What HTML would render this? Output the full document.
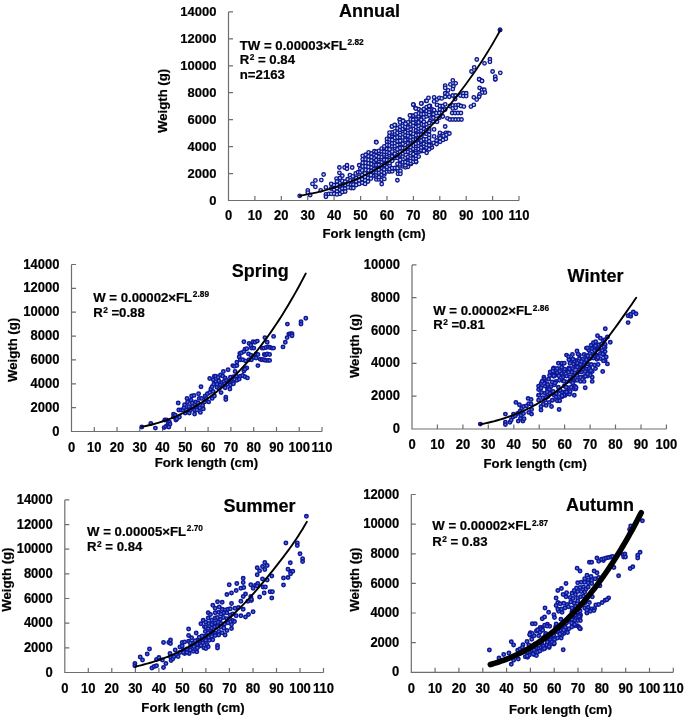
<!DOCTYPE html>
<html><head><meta charset="utf-8"><style>
html,body{margin:0;padding:0;background:#fff;width:685px;height:719px;overflow:hidden}
svg{display:block;filter:blur(0.35px)}
text{font-family:"Liberation Sans", sans-serif;font-weight:bold;fill:#000;stroke:#000;stroke-width:0.2px}
</style></head><body>
<svg width="685" height="719" viewBox="0 0 685 719">
<path d="M228.5,11.9V200.5H519.0M228.5,173.6h4.5M228.5,146.6h4.5M228.5,119.7h4.5M228.5,92.7h4.5M228.5,65.8h4.5M228.5,38.8h4.5M228.5,11.9h4.5M254.9,200.5v-4.5M281.3,200.5v-4.5M307.7,200.5v-4.5M334.1,200.5v-4.5M360.6,200.5v-4.5M387.0,200.5v-4.5M413.4,200.5v-4.5M439.8,200.5v-4.5M466.2,200.5v-4.5M492.6,200.5v-4.5M519.0,200.5v-4.5" stroke="#6e6e6e" stroke-width="1.2" fill="none"/>
<text transform="translate(216.50,204.70) scale(1,1.03)" font-size="13" text-anchor="end" >0</text>
<text transform="translate(216.50,177.76) scale(1,1.03)" font-size="13" text-anchor="end" >2000</text>
<text transform="translate(216.50,150.81) scale(1,1.03)" font-size="13" text-anchor="end" >4000</text>
<text transform="translate(216.50,123.87) scale(1,1.03)" font-size="13" text-anchor="end" >6000</text>
<text transform="translate(216.50,96.93) scale(1,1.03)" font-size="13" text-anchor="end" >8000</text>
<text transform="translate(216.50,69.99) scale(1,1.03)" font-size="13" text-anchor="end" >10000</text>
<text transform="translate(216.50,43.04) scale(1,1.03)" font-size="13" text-anchor="end" >12000</text>
<text transform="translate(216.50,16.10) scale(1,1.03)" font-size="13" text-anchor="end" >14000</text>
<text transform="translate(228.50,220.40) scale(1,1.1)" font-size="13" text-anchor="middle" >0</text>
<text transform="translate(254.91,220.40) scale(1,1.1)" font-size="13" text-anchor="middle" >10</text>
<text transform="translate(281.32,220.40) scale(1,1.1)" font-size="13" text-anchor="middle" >20</text>
<text transform="translate(307.73,220.40) scale(1,1.1)" font-size="13" text-anchor="middle" >30</text>
<text transform="translate(334.14,220.40) scale(1,1.1)" font-size="13" text-anchor="middle" >40</text>
<text transform="translate(360.55,220.40) scale(1,1.1)" font-size="13" text-anchor="middle" >50</text>
<text transform="translate(386.96,220.40) scale(1,1.1)" font-size="13" text-anchor="middle" >60</text>
<text transform="translate(413.37,220.40) scale(1,1.1)" font-size="13" text-anchor="middle" >70</text>
<text transform="translate(439.78,220.40) scale(1,1.1)" font-size="13" text-anchor="middle" >80</text>
<text transform="translate(466.19,220.40) scale(1,1.1)" font-size="13" text-anchor="middle" >90</text>
<text transform="translate(492.60,220.40) scale(1,1.1)" font-size="13" text-anchor="middle" >100</text>
<text transform="translate(519.01,220.40) scale(1,1.1)" font-size="13" text-anchor="middle" >110</text>
<text x="369.4" y="16.5" font-size="18" text-anchor="middle" >Annual</text>
<text x="374.1" y="237.8" font-size="13.2" text-anchor="middle" >Fork length (cm)</text>
<text x="0" y="0" font-size="13.2" text-anchor="middle" transform="translate(167.3,100.9) rotate(-90)">Weigth (g)</text>
<path d="M71.5,264.5V431.5H322.0M71.5,407.6h4.5M71.5,383.8h4.5M71.5,359.9h4.5M71.5,336.1h4.5M71.5,312.2h4.5M71.5,288.4h4.5M71.5,264.5h4.5M94.3,431.5v-4.5M117.0,431.5v-4.5M139.8,431.5v-4.5M162.6,431.5v-4.5M185.4,431.5v-4.5M208.1,431.5v-4.5M230.9,431.5v-4.5M253.7,431.5v-4.5M276.5,431.5v-4.5M299.2,431.5v-4.5M322.0,431.5v-4.5" stroke="#6e6e6e" stroke-width="1.2" fill="none"/>
<text transform="translate(59.50,435.60) scale(1,1.12)" font-size="13" text-anchor="end" >0</text>
<text transform="translate(59.50,411.74) scale(1,1.12)" font-size="13" text-anchor="end" >2000</text>
<text transform="translate(59.50,387.89) scale(1,1.12)" font-size="13" text-anchor="end" >4000</text>
<text transform="translate(59.50,364.03) scale(1,1.12)" font-size="13" text-anchor="end" >6000</text>
<text transform="translate(59.50,340.17) scale(1,1.12)" font-size="13" text-anchor="end" >8000</text>
<text transform="translate(59.50,316.31) scale(1,1.12)" font-size="13" text-anchor="end" >10000</text>
<text transform="translate(59.50,292.46) scale(1,1.12)" font-size="13" text-anchor="end" >12000</text>
<text transform="translate(59.50,268.60) scale(1,1.12)" font-size="13" text-anchor="end" >14000</text>
<text transform="translate(71.50,451.70) scale(1,1.08)" font-size="13" text-anchor="middle" >0</text>
<text transform="translate(94.27,451.70) scale(1,1.08)" font-size="13" text-anchor="middle" >10</text>
<text transform="translate(117.05,451.70) scale(1,1.08)" font-size="13" text-anchor="middle" >20</text>
<text transform="translate(139.82,451.70) scale(1,1.08)" font-size="13" text-anchor="middle" >30</text>
<text transform="translate(162.59,451.70) scale(1,1.08)" font-size="13" text-anchor="middle" >40</text>
<text transform="translate(185.37,451.70) scale(1,1.08)" font-size="13" text-anchor="middle" >50</text>
<text transform="translate(208.14,451.70) scale(1,1.08)" font-size="13" text-anchor="middle" >60</text>
<text transform="translate(230.91,451.70) scale(1,1.08)" font-size="13" text-anchor="middle" >70</text>
<text transform="translate(253.68,451.70) scale(1,1.08)" font-size="13" text-anchor="middle" >80</text>
<text transform="translate(276.46,451.70) scale(1,1.08)" font-size="13" text-anchor="middle" >90</text>
<text transform="translate(299.23,451.70) scale(1,1.08)" font-size="13" text-anchor="middle" >100</text>
<text transform="translate(322.00,451.70) scale(1,1.08)" font-size="13" text-anchor="middle" >110</text>
<text x="260.3" y="276.8" font-size="18" text-anchor="middle" >Spring</text>
<text x="206.4" y="467.2" font-size="13.2" text-anchor="middle" >Fork length (cm)</text>
<text x="0" y="0" font-size="13.2" text-anchor="middle" transform="translate(17.3,349.9) rotate(-90)">Weigth (g)</text>
<path d="M412.0,264.9V429.0H666.4M412.0,396.2h4.5M412.0,363.4h4.5M412.0,330.5h4.5M412.0,297.7h4.5M412.0,264.9h4.5M437.4,429.0v-4.5M462.9,429.0v-4.5M488.3,429.0v-4.5M513.8,429.0v-4.5M539.2,429.0v-4.5M564.6,429.0v-4.5M590.1,429.0v-4.5M615.5,429.0v-4.5M641.0,429.0v-4.5M666.4,429.0v-4.5" stroke="#6e6e6e" stroke-width="1.2" fill="none"/>
<text transform="translate(400.00,433.10) scale(1,1.12)" font-size="13" text-anchor="end" >0</text>
<text transform="translate(400.00,400.28) scale(1,1.12)" font-size="13" text-anchor="end" >2000</text>
<text transform="translate(400.00,367.46) scale(1,1.12)" font-size="13" text-anchor="end" >4000</text>
<text transform="translate(400.00,334.64) scale(1,1.12)" font-size="13" text-anchor="end" >6000</text>
<text transform="translate(400.00,301.82) scale(1,1.12)" font-size="13" text-anchor="end" >8000</text>
<text transform="translate(400.00,269.00) scale(1,1.12)" font-size="13" text-anchor="end" >10000</text>
<text transform="translate(412.00,449.20) scale(1,1.08)" font-size="13" text-anchor="middle" >0</text>
<text transform="translate(437.44,449.20) scale(1,1.08)" font-size="13" text-anchor="middle" >10</text>
<text transform="translate(462.88,449.20) scale(1,1.08)" font-size="13" text-anchor="middle" >20</text>
<text transform="translate(488.32,449.20) scale(1,1.08)" font-size="13" text-anchor="middle" >30</text>
<text transform="translate(513.76,449.20) scale(1,1.08)" font-size="13" text-anchor="middle" >40</text>
<text transform="translate(539.20,449.20) scale(1,1.08)" font-size="13" text-anchor="middle" >50</text>
<text transform="translate(564.64,449.20) scale(1,1.08)" font-size="13" text-anchor="middle" >60</text>
<text transform="translate(590.08,449.20) scale(1,1.08)" font-size="13" text-anchor="middle" >70</text>
<text transform="translate(615.52,449.20) scale(1,1.08)" font-size="13" text-anchor="middle" >80</text>
<text transform="translate(640.96,449.20) scale(1,1.08)" font-size="13" text-anchor="middle" >90</text>
<text transform="translate(666.40,449.20) scale(1,1.08)" font-size="13" text-anchor="middle" >100</text>
<text x="595.5" y="282.3" font-size="18" text-anchor="middle" >Winter</text>
<text x="535.2" y="467.6" font-size="13.2" text-anchor="middle" >Fork length (cm)</text>
<text x="0" y="0" font-size="13.2" text-anchor="middle" transform="translate(359.0,346.0) rotate(-90)">Weigth (g)</text>
<path d="M64.8,499.9V672.5H323.5M64.8,647.8h4.5M64.8,623.2h4.5M64.8,598.5h4.5M64.8,573.9h4.5M64.8,549.2h4.5M64.8,524.6h4.5M64.8,499.9h4.5M88.3,672.5v-4.5M111.8,672.5v-4.5M135.4,672.5v-4.5M158.9,672.5v-4.5M182.4,672.5v-4.5M205.9,672.5v-4.5M229.4,672.5v-4.5M253.0,672.5v-4.5M276.5,672.5v-4.5M300.0,672.5v-4.5M323.5,672.5v-4.5" stroke="#6e6e6e" stroke-width="1.2" fill="none"/>
<text transform="translate(52.80,676.60) scale(1,1.12)" font-size="13" text-anchor="end" >0</text>
<text transform="translate(52.80,651.94) scale(1,1.12)" font-size="13" text-anchor="end" >2000</text>
<text transform="translate(52.80,627.29) scale(1,1.12)" font-size="13" text-anchor="end" >4000</text>
<text transform="translate(52.80,602.63) scale(1,1.12)" font-size="13" text-anchor="end" >6000</text>
<text transform="translate(52.80,577.97) scale(1,1.12)" font-size="13" text-anchor="end" >8000</text>
<text transform="translate(52.80,553.31) scale(1,1.12)" font-size="13" text-anchor="end" >10000</text>
<text transform="translate(52.80,528.66) scale(1,1.12)" font-size="13" text-anchor="end" >12000</text>
<text transform="translate(52.80,504.00) scale(1,1.12)" font-size="13" text-anchor="end" >14000</text>
<text transform="translate(64.80,692.70) scale(1,1.08)" font-size="13" text-anchor="middle" >0</text>
<text transform="translate(88.32,692.70) scale(1,1.08)" font-size="13" text-anchor="middle" >10</text>
<text transform="translate(111.84,692.70) scale(1,1.08)" font-size="13" text-anchor="middle" >20</text>
<text transform="translate(135.36,692.70) scale(1,1.08)" font-size="13" text-anchor="middle" >30</text>
<text transform="translate(158.88,692.70) scale(1,1.08)" font-size="13" text-anchor="middle" >40</text>
<text transform="translate(182.40,692.70) scale(1,1.08)" font-size="13" text-anchor="middle" >50</text>
<text transform="translate(205.92,692.70) scale(1,1.08)" font-size="13" text-anchor="middle" >60</text>
<text transform="translate(229.44,692.70) scale(1,1.08)" font-size="13" text-anchor="middle" >70</text>
<text transform="translate(252.96,692.70) scale(1,1.08)" font-size="13" text-anchor="middle" >80</text>
<text transform="translate(276.48,692.70) scale(1,1.08)" font-size="13" text-anchor="middle" >90</text>
<text transform="translate(300.00,692.70) scale(1,1.08)" font-size="13" text-anchor="middle" >100</text>
<text transform="translate(323.52,692.70) scale(1,1.08)" font-size="13" text-anchor="middle" >110</text>
<text x="259.5" y="512.2" font-size="18" text-anchor="middle" >Summer</text>
<text x="193.0" y="711.5" font-size="13.2" text-anchor="middle" >Fork length (cm)</text>
<text x="0" y="0" font-size="13.2" text-anchor="middle" transform="translate(11.3,579.6) rotate(-90)">Weigth (g)</text>
<path d="M411.3,494.5V672.3H673.3M411.3,642.7h4.5M411.3,613.0h4.5M411.3,583.4h4.5M411.3,553.8h4.5M411.3,524.1h4.5M411.3,494.5h4.5M435.1,672.3v-4.5M458.9,672.3v-4.5M482.8,672.3v-4.5M506.6,672.3v-4.5M530.4,672.3v-4.5M554.2,672.3v-4.5M578.0,672.3v-4.5M601.9,672.3v-4.5M625.7,672.3v-4.5M649.5,672.3v-4.5M673.3,672.3v-4.5" stroke="#6e6e6e" stroke-width="1.2" fill="none"/>
<text transform="translate(399.30,676.40) scale(1,1.12)" font-size="13" text-anchor="end" >0</text>
<text transform="translate(399.30,646.77) scale(1,1.12)" font-size="13" text-anchor="end" >2000</text>
<text transform="translate(399.30,617.13) scale(1,1.12)" font-size="13" text-anchor="end" >4000</text>
<text transform="translate(399.30,587.50) scale(1,1.12)" font-size="13" text-anchor="end" >6000</text>
<text transform="translate(399.30,557.87) scale(1,1.12)" font-size="13" text-anchor="end" >8000</text>
<text transform="translate(399.30,528.23) scale(1,1.12)" font-size="13" text-anchor="end" >10000</text>
<text transform="translate(399.30,498.60) scale(1,1.12)" font-size="13" text-anchor="end" >12000</text>
<text transform="translate(411.30,692.50) scale(1,1.08)" font-size="13" text-anchor="middle" >0</text>
<text transform="translate(435.12,692.50) scale(1,1.08)" font-size="13" text-anchor="middle" >10</text>
<text transform="translate(458.94,692.50) scale(1,1.08)" font-size="13" text-anchor="middle" >20</text>
<text transform="translate(482.76,692.50) scale(1,1.08)" font-size="13" text-anchor="middle" >30</text>
<text transform="translate(506.58,692.50) scale(1,1.08)" font-size="13" text-anchor="middle" >40</text>
<text transform="translate(530.40,692.50) scale(1,1.08)" font-size="13" text-anchor="middle" >50</text>
<text transform="translate(554.22,692.50) scale(1,1.08)" font-size="13" text-anchor="middle" >60</text>
<text transform="translate(578.04,692.50) scale(1,1.08)" font-size="13" text-anchor="middle" >70</text>
<text transform="translate(601.86,692.50) scale(1,1.08)" font-size="13" text-anchor="middle" >80</text>
<text transform="translate(625.68,692.50) scale(1,1.08)" font-size="13" text-anchor="middle" >90</text>
<text transform="translate(649.50,692.50) scale(1,1.08)" font-size="13" text-anchor="middle" >100</text>
<text transform="translate(673.32,692.50) scale(1,1.08)" font-size="13" text-anchor="middle" >110</text>
<text x="599.9" y="511.3" font-size="18" text-anchor="middle" >Autumn</text>
<text x="560.6" y="713.9" font-size="13.2" text-anchor="middle" >Fork length (cm)</text>
<text x="0" y="0" font-size="13.2" text-anchor="middle" transform="translate(359.0,579.6) rotate(-90)">Weigth (g)</text>
<text x="239.8" y="49.6" font-size="13.2">TW = 0.00003×FL<tspan font-size="8.3" dx="0.7" dy="-4.4">2.82</tspan></text>
<text x="239.8" y="64.2" font-size="13.2">R<tspan font-size="8.3" dx="0.4" dy="-4.0">2</tspan><tspan dy="4.0"> = 0.84</tspan></text>
<text x="239.8" y="79.0" font-size="13.2">n=2163</text>
<text x="93.2" y="301.6" font-size="13.2">W = 0.00002×FL<tspan font-size="8.3" dx="0.7" dy="-4.4">2.89</tspan></text>
<text x="93.2" y="316.7" font-size="13.2">R<tspan font-size="8.3" dx="0.4" dy="-4.0">2</tspan><tspan dy="4.0"> =0.88</tspan></text>
<text x="433.2" y="315.0" font-size="13.2">W = 0.00002×FL<tspan font-size="8.3" dx="0.7" dy="-4.4">2.86</tspan></text>
<text x="433.2" y="328.9" font-size="13.2">R<tspan font-size="8.3" dx="0.4" dy="-4.0">2</tspan><tspan dy="4.0"> =0.81</tspan></text>
<text x="87.1" y="535.6" font-size="13.2">W = 0.00005×FL<tspan font-size="8.3" dx="0.7" dy="-4.4">2.70</tspan></text>
<text x="87.1" y="551.0" font-size="13.2">R<tspan font-size="8.3" dx="0.4" dy="-4.0">2</tspan><tspan dy="4.0"> = 0.84</tspan></text>
<text x="432.3" y="530.1" font-size="13.2">W = 0.00002×FL<tspan font-size="8.3" dx="0.7" dy="-4.4">2.87</tspan></text>
<text x="432.3" y="545.9" font-size="13.2">R<tspan font-size="8.3" dx="0.4" dy="-4.0">2</tspan><tspan dy="4.0"> = 0.83</tspan></text>
<g stroke="#15158e" stroke-width="1.35" fill="#b2e2fb"><circle cx="299.7" cy="195.8" r="1.75"/><circle cx="307.8" cy="190.3" r="1.75"/><circle cx="307.8" cy="192.6" r="1.75"/><circle cx="310.2" cy="195.0" r="1.75"/><circle cx="312.5" cy="183.9" r="1.75"/><circle cx="315.4" cy="180.4" r="1.75"/><circle cx="315.4" cy="186.8" r="1.75"/><circle cx="321.3" cy="180.1" r="1.75"/><circle cx="323.6" cy="174.5" r="1.75"/><circle cx="320.7" cy="190.3" r="1.75"/><circle cx="325.9" cy="187.4" r="1.75"/><circle cx="325.9" cy="194.4" r="1.75"/><circle cx="325.9" cy="196.7" r="1.75"/><circle cx="328.9" cy="193.8" r="1.75"/><circle cx="331.2" cy="183.9" r="1.75"/><circle cx="331.2" cy="188.5" r="1.75"/><circle cx="331.2" cy="193.8" r="1.75"/><circle cx="334.1" cy="185.0" r="1.75"/><circle cx="334.1" cy="189.7" r="1.75"/><circle cx="334.1" cy="193.8" r="1.75"/><circle cx="336.5" cy="178.6" r="1.75"/><circle cx="337.0" cy="181.5" r="1.75"/><circle cx="337.0" cy="185.0" r="1.75"/><circle cx="337.0" cy="188.5" r="1.75"/><circle cx="337.0" cy="191.5" r="1.75"/><circle cx="337.0" cy="194.4" r="1.75"/><circle cx="339.4" cy="167.5" r="1.75"/><circle cx="339.4" cy="172.8" r="1.75"/><circle cx="340.0" cy="178.0" r="1.75"/><circle cx="340.0" cy="182.7" r="1.75"/><circle cx="340.0" cy="186.2" r="1.75"/><circle cx="340.0" cy="189.7" r="1.75"/><circle cx="340.0" cy="193.8" r="1.75"/><circle cx="342.3" cy="175.7" r="1.75"/><circle cx="342.3" cy="180.9" r="1.75"/><circle cx="342.3" cy="185.0" r="1.75"/><circle cx="342.3" cy="188.5" r="1.75"/><circle cx="342.3" cy="192.0" r="1.75"/><circle cx="344.6" cy="167.5" r="1.75"/><circle cx="347.0" cy="165.2" r="1.75"/><circle cx="347.0" cy="168.7" r="1.75"/><circle cx="345.2" cy="181.5" r="1.75"/><circle cx="345.2" cy="185.0" r="1.75"/><circle cx="345.2" cy="188.5" r="1.75"/><circle cx="345.2" cy="191.5" r="1.75"/><circle cx="349.9" cy="175.1" r="1.75"/><circle cx="347.6" cy="179.2" r="1.75"/><circle cx="348.1" cy="183.9" r="1.75"/><circle cx="348.1" cy="187.4" r="1.75"/><circle cx="352.2" cy="167.5" r="1.75"/><circle cx="352.8" cy="176.3" r="1.75"/><circle cx="350.5" cy="180.4" r="1.75"/><circle cx="351.1" cy="184.5" r="1.75"/><circle cx="351.1" cy="188.0" r="1.75"/><circle cx="355.7" cy="173.4" r="1.75"/><circle cx="353.4" cy="180.4" r="1.75"/><circle cx="353.4" cy="184.5" r="1.75"/><circle cx="353.4" cy="188.0" r="1.75"/><circle cx="358.1" cy="172.2" r="1.75"/><circle cx="356.3" cy="178.0" r="1.75"/><circle cx="356.3" cy="181.5" r="1.75"/><circle cx="356.3" cy="185.0" r="1.75"/><circle cx="359.2" cy="165.2" r="1.75"/><circle cx="360.4" cy="168.7" r="1.75"/><circle cx="360.4" cy="172.2" r="1.75"/><circle cx="359.2" cy="176.9" r="1.75"/><circle cx="359.2" cy="180.4" r="1.75"/><circle cx="359.2" cy="183.9" r="1.75"/><circle cx="362.7" cy="155.8" r="1.75"/><circle cx="362.7" cy="159.3" r="1.75"/><circle cx="362.7" cy="162.8" r="1.75"/><circle cx="362.7" cy="166.4" r="1.75"/><circle cx="362.2" cy="170.4" r="1.75"/><circle cx="362.2" cy="175.1" r="1.75"/><circle cx="362.2" cy="179.2" r="1.75"/><circle cx="362.2" cy="182.7" r="1.75"/><circle cx="365.7" cy="154.7" r="1.75"/><circle cx="365.7" cy="159.3" r="1.75"/><circle cx="365.7" cy="162.8" r="1.75"/><circle cx="365.7" cy="166.4" r="1.75"/><circle cx="365.7" cy="169.9" r="1.75"/><circle cx="365.1" cy="173.4" r="1.75"/><circle cx="365.1" cy="176.9" r="1.75"/><circle cx="365.1" cy="180.4" r="1.75"/><circle cx="365.1" cy="183.9" r="1.75"/><circle cx="368.6" cy="152.3" r="1.75"/><circle cx="368.6" cy="156.4" r="1.75"/><circle cx="368.6" cy="159.9" r="1.75"/><circle cx="368.6" cy="163.4" r="1.75"/><circle cx="368.6" cy="166.9" r="1.75"/><circle cx="368.6" cy="170.4" r="1.75"/><circle cx="368.0" cy="174.5" r="1.75"/><circle cx="368.0" cy="178.0" r="1.75"/><circle cx="368.0" cy="181.5" r="1.75"/><circle cx="371.5" cy="153.5" r="1.75"/><circle cx="371.5" cy="157.0" r="1.75"/><circle cx="371.5" cy="160.5" r="1.75"/><circle cx="371.5" cy="164.0" r="1.75"/><circle cx="371.5" cy="167.5" r="1.75"/><circle cx="371.5" cy="171.0" r="1.75"/><circle cx="370.9" cy="175.1" r="1.75"/><circle cx="370.9" cy="178.6" r="1.75"/><circle cx="374.4" cy="151.2" r="1.75"/><circle cx="374.4" cy="154.7" r="1.75"/><circle cx="374.4" cy="158.2" r="1.75"/><circle cx="374.4" cy="161.7" r="1.75"/><circle cx="374.4" cy="165.2" r="1.75"/><circle cx="374.4" cy="168.7" r="1.75"/><circle cx="374.4" cy="172.2" r="1.75"/><circle cx="374.4" cy="175.7" r="1.75"/><circle cx="500.1" cy="29.9" r="1.75"/><circle cx="476.8" cy="59.5" r="1.75"/><circle cx="484.5" cy="63.3" r="1.75"/><circle cx="489.9" cy="59.2" r="1.75"/><circle cx="489.9" cy="61.8" r="1.75"/><circle cx="474.2" cy="67.4" r="1.75"/><circle cx="471.5" cy="71.5" r="1.75"/><circle cx="492.6" cy="71.5" r="1.75"/><circle cx="500.3" cy="72.8" r="1.75"/><circle cx="495.2" cy="76.6" r="1.75"/><circle cx="495.2" cy="79.2" r="1.75"/><circle cx="479.3" cy="79.2" r="1.75"/><circle cx="481.9" cy="81.0" r="1.75"/><circle cx="452.8" cy="80.3" r="1.75"/><circle cx="455.7" cy="83.3" r="1.75"/><circle cx="450.4" cy="84.4" r="1.75"/><circle cx="453.4" cy="86.2" r="1.75"/><circle cx="452.8" cy="89.1" r="1.75"/><circle cx="445.2" cy="85.6" r="1.75"/><circle cx="445.2" cy="87.9" r="1.75"/><circle cx="448.1" cy="90.3" r="1.75"/><circle cx="479.1" cy="79.2" r="1.75"/><circle cx="482.0" cy="80.9" r="1.75"/><circle cx="495.4" cy="79.2" r="1.75"/><circle cx="445.2" cy="93.2" r="1.75"/><circle cx="447.5" cy="94.4" r="1.75"/><circle cx="445.2" cy="96.7" r="1.75"/><circle cx="449.3" cy="96.7" r="1.75"/><circle cx="452.8" cy="95.5" r="1.75"/><circle cx="455.7" cy="95.5" r="1.75"/><circle cx="455.1" cy="99.0" r="1.75"/><circle cx="460.4" cy="95.5" r="1.75"/><circle cx="463.3" cy="93.2" r="1.75"/><circle cx="466.2" cy="93.2" r="1.75"/><circle cx="463.3" cy="96.1" r="1.75"/><circle cx="466.2" cy="96.1" r="1.75"/><circle cx="479.6" cy="87.9" r="1.75"/><circle cx="482.0" cy="89.7" r="1.75"/><circle cx="484.3" cy="89.7" r="1.75"/><circle cx="484.9" cy="92.6" r="1.75"/><circle cx="482.0" cy="92.6" r="1.75"/><circle cx="479.6" cy="94.4" r="1.75"/><circle cx="479.1" cy="96.7" r="1.75"/><circle cx="476.7" cy="99.6" r="1.75"/><circle cx="473.8" cy="97.3" r="1.75"/><circle cx="473.8" cy="104.9" r="1.75"/><circle cx="470.9" cy="106.6" r="1.75"/><circle cx="434.1" cy="97.3" r="1.75"/><circle cx="437.0" cy="99.6" r="1.75"/><circle cx="439.3" cy="97.9" r="1.75"/><circle cx="441.7" cy="98.4" r="1.75"/><circle cx="434.1" cy="101.4" r="1.75"/><circle cx="437.0" cy="104.9" r="1.75"/><circle cx="439.9" cy="106.0" r="1.75"/><circle cx="442.8" cy="106.0" r="1.75"/><circle cx="445.2" cy="104.3" r="1.75"/><circle cx="449.9" cy="106.0" r="1.75"/><circle cx="452.8" cy="105.4" r="1.75"/><circle cx="455.7" cy="105.4" r="1.75"/><circle cx="458.6" cy="104.9" r="1.75"/><circle cx="460.9" cy="106.0" r="1.75"/><circle cx="463.9" cy="106.6" r="1.75"/><circle cx="452.8" cy="108.4" r="1.75"/><circle cx="455.7" cy="107.8" r="1.75"/><circle cx="439.9" cy="109.5" r="1.75"/><circle cx="442.8" cy="110.1" r="1.75"/><circle cx="445.2" cy="109.5" r="1.75"/><circle cx="452.2" cy="113.0" r="1.75"/><circle cx="455.1" cy="113.0" r="1.75"/><circle cx="458.0" cy="113.0" r="1.75"/><circle cx="460.9" cy="113.0" r="1.75"/><circle cx="447.5" cy="118.3" r="1.75"/><circle cx="449.9" cy="119.5" r="1.75"/><circle cx="452.8" cy="119.5" r="1.75"/><circle cx="455.7" cy="119.5" r="1.75"/><circle cx="458.6" cy="119.5" r="1.75"/><circle cx="461.5" cy="119.5" r="1.75"/><circle cx="430.0" cy="106.0" r="1.75"/><circle cx="432.3" cy="109.5" r="1.75"/><circle cx="434.1" cy="110.1" r="1.75"/><circle cx="430.0" cy="113.0" r="1.75"/><circle cx="433.5" cy="114.2" r="1.75"/><circle cx="436.4" cy="113.0" r="1.75"/><circle cx="439.3" cy="113.0" r="1.75"/><circle cx="441.7" cy="115.4" r="1.75"/><circle cx="430.0" cy="116.5" r="1.75"/><circle cx="433.5" cy="117.7" r="1.75"/><circle cx="436.4" cy="118.9" r="1.75"/><circle cx="439.3" cy="117.7" r="1.75"/><circle cx="442.8" cy="116.5" r="1.75"/><circle cx="430.0" cy="121.2" r="1.75"/><circle cx="433.5" cy="121.8" r="1.75"/><circle cx="437.0" cy="121.8" r="1.75"/><circle cx="445.2" cy="126.5" r="1.75"/><circle cx="434.1" cy="129.4" r="1.75"/><circle cx="439.9" cy="132.9" r="1.75"/><circle cx="442.8" cy="134.1" r="1.75"/><circle cx="445.8" cy="132.9" r="1.75"/><circle cx="448.1" cy="132.9" r="1.75"/><circle cx="434.1" cy="136.4" r="1.75"/><circle cx="439.3" cy="136.4" r="1.75"/><circle cx="441.7" cy="136.4" r="1.75"/><circle cx="445.2" cy="135.8" r="1.75"/><circle cx="376.1" cy="141.9" r="1.75"/><circle cx="399.8" cy="119.3" r="1.75"/><circle cx="403.1" cy="120.6" r="1.75"/><circle cx="391.9" cy="126.5" r="1.75"/><circle cx="395.2" cy="125.2" r="1.75"/><circle cx="410.9" cy="115.4" r="1.75"/><circle cx="415.5" cy="108.1" r="1.75"/><circle cx="413.6" cy="104.9" r="1.75"/><circle cx="421.5" cy="103.5" r="1.75"/><circle cx="426.1" cy="100.9" r="1.75"/><circle cx="376.4" cy="142.3" r="1.75"/><circle cx="426.6" cy="152.8" r="1.75"/><circle cx="397.4" cy="180.2" r="1.75"/><circle cx="381.7" cy="184.0" r="1.75"/><circle cx="398.0" cy="170.9" r="1.75"/><circle cx="400.4" cy="170.9" r="1.75"/><circle cx="398.0" cy="173.8" r="1.75"/><circle cx="400.4" cy="173.8" r="1.75"/><circle cx="408.0" cy="166.8" r="1.75"/><circle cx="416.1" cy="162.1" r="1.75"/><circle cx="431.9" cy="147.5" r="1.75"/><circle cx="410.9" cy="163.9" r="1.75"/><circle cx="405.0" cy="165.0" r="1.75"/><circle cx="395.7" cy="168.5" r="1.75"/><circle cx="430.7" cy="145.2" r="1.75"/><circle cx="433.6" cy="142.8" r="1.75"/><circle cx="436.6" cy="140.5" r="1.75"/><circle cx="440.1" cy="138.2" r="1.75"/><circle cx="443.6" cy="135.8" r="1.75"/><circle cx="446.5" cy="134.7" r="1.75"/><circle cx="449.4" cy="133.5" r="1.75"/><circle cx="428.4" cy="148.1" r="1.75"/><circle cx="424.9" cy="149.9" r="1.75"/><circle cx="422.0" cy="151.0" r="1.75"/><circle cx="440.1" cy="141.7" r="1.75"/><circle cx="443.0" cy="139.9" r="1.75"/><circle cx="445.9" cy="138.8" r="1.75"/><circle cx="436.6" cy="144.0" r="1.75"/><circle cx="376.4" cy="179.4" r="1.75"/><circle cx="376.4" cy="176.5" r="1.75"/><circle cx="376.4" cy="174.6" r="1.75"/><circle cx="376.4" cy="172.3" r="1.75"/><circle cx="376.4" cy="169.4" r="1.75"/><circle cx="376.4" cy="165.8" r="1.75"/><circle cx="376.4" cy="165.0" r="1.75"/><circle cx="376.4" cy="160.7" r="1.75"/><circle cx="376.4" cy="160.0" r="1.75"/><circle cx="376.4" cy="155.8" r="1.75"/><circle cx="376.4" cy="151.7" r="1.75"/><circle cx="379.0" cy="179.4" r="1.75"/><circle cx="379.0" cy="177.1" r="1.75"/><circle cx="379.0" cy="174.1" r="1.75"/><circle cx="379.0" cy="172.6" r="1.75"/><circle cx="379.0" cy="169.7" r="1.75"/><circle cx="379.0" cy="165.7" r="1.75"/><circle cx="379.0" cy="164.7" r="1.75"/><circle cx="379.0" cy="161.0" r="1.75"/><circle cx="379.0" cy="158.7" r="1.75"/><circle cx="379.0" cy="156.9" r="1.75"/><circle cx="379.0" cy="152.7" r="1.75"/><circle cx="379.0" cy="150.8" r="1.75"/><circle cx="381.7" cy="179.7" r="1.75"/><circle cx="381.7" cy="174.7" r="1.75"/><circle cx="381.7" cy="171.3" r="1.75"/><circle cx="381.7" cy="168.3" r="1.75"/><circle cx="381.7" cy="167.6" r="1.75"/><circle cx="381.7" cy="165.2" r="1.75"/><circle cx="381.7" cy="162.0" r="1.75"/><circle cx="381.7" cy="159.0" r="1.75"/><circle cx="381.7" cy="157.0" r="1.75"/><circle cx="381.7" cy="151.2" r="1.75"/><circle cx="381.7" cy="148.6" r="1.75"/><circle cx="384.3" cy="178.9" r="1.75"/><circle cx="384.3" cy="174.4" r="1.75"/><circle cx="384.3" cy="172.7" r="1.75"/><circle cx="384.3" cy="169.4" r="1.75"/><circle cx="384.3" cy="165.8" r="1.75"/><circle cx="384.3" cy="164.9" r="1.75"/><circle cx="384.3" cy="160.8" r="1.75"/><circle cx="384.3" cy="159.8" r="1.75"/><circle cx="384.3" cy="156.0" r="1.75"/><circle cx="384.3" cy="154.4" r="1.75"/><circle cx="384.3" cy="151.7" r="1.75"/><circle cx="384.3" cy="147.8" r="1.75"/><circle cx="384.3" cy="146.4" r="1.75"/><circle cx="387.0" cy="171.4" r="1.75"/><circle cx="387.0" cy="168.8" r="1.75"/><circle cx="387.0" cy="167.1" r="1.75"/><circle cx="387.0" cy="162.8" r="1.75"/><circle cx="387.0" cy="161.1" r="1.75"/><circle cx="387.0" cy="160.0" r="1.75"/><circle cx="387.0" cy="156.1" r="1.75"/><circle cx="387.0" cy="153.9" r="1.75"/><circle cx="387.0" cy="151.8" r="1.75"/><circle cx="387.0" cy="149.0" r="1.75"/><circle cx="387.0" cy="145.0" r="1.75"/><circle cx="387.0" cy="141.6" r="1.75"/><circle cx="387.0" cy="138.8" r="1.75"/><circle cx="389.6" cy="171.5" r="1.75"/><circle cx="389.6" cy="169.1" r="1.75"/><circle cx="389.6" cy="165.5" r="1.75"/><circle cx="389.6" cy="163.1" r="1.75"/><circle cx="389.6" cy="160.2" r="1.75"/><circle cx="389.6" cy="155.1" r="1.75"/><circle cx="389.6" cy="153.0" r="1.75"/><circle cx="389.6" cy="149.7" r="1.75"/><circle cx="389.6" cy="149.3" r="1.75"/><circle cx="389.6" cy="145.3" r="1.75"/><circle cx="389.6" cy="141.6" r="1.75"/><circle cx="389.6" cy="139.3" r="1.75"/><circle cx="389.6" cy="136.3" r="1.75"/><circle cx="389.6" cy="135.8" r="1.75"/><circle cx="392.2" cy="171.3" r="1.75"/><circle cx="392.2" cy="168.3" r="1.75"/><circle cx="392.2" cy="168.1" r="1.75"/><circle cx="392.2" cy="160.8" r="1.75"/><circle cx="392.2" cy="157.9" r="1.75"/><circle cx="392.2" cy="156.2" r="1.75"/><circle cx="392.2" cy="152.9" r="1.75"/><circle cx="392.2" cy="151.6" r="1.75"/><circle cx="392.2" cy="146.2" r="1.75"/><circle cx="392.2" cy="143.3" r="1.75"/><circle cx="392.2" cy="140.0" r="1.75"/><circle cx="392.2" cy="136.0" r="1.75"/><circle cx="392.2" cy="134.0" r="1.75"/><circle cx="392.2" cy="132.4" r="1.75"/><circle cx="394.9" cy="168.0" r="1.75"/><circle cx="394.9" cy="158.0" r="1.75"/><circle cx="394.9" cy="155.3" r="1.75"/><circle cx="394.9" cy="153.7" r="1.75"/><circle cx="394.9" cy="148.0" r="1.75"/><circle cx="394.9" cy="146.1" r="1.75"/><circle cx="394.9" cy="143.1" r="1.75"/><circle cx="394.9" cy="137.9" r="1.75"/><circle cx="394.9" cy="133.7" r="1.75"/><circle cx="394.9" cy="131.4" r="1.75"/><circle cx="397.5" cy="168.1" r="1.75"/><circle cx="397.5" cy="163.9" r="1.75"/><circle cx="397.5" cy="157.9" r="1.75"/><circle cx="397.5" cy="155.2" r="1.75"/><circle cx="397.5" cy="149.8" r="1.75"/><circle cx="397.5" cy="149.3" r="1.75"/><circle cx="397.5" cy="144.9" r="1.75"/><circle cx="397.5" cy="141.6" r="1.75"/><circle cx="397.5" cy="141.2" r="1.75"/><circle cx="397.5" cy="137.3" r="1.75"/><circle cx="397.5" cy="132.9" r="1.75"/><circle cx="397.5" cy="128.4" r="1.75"/><circle cx="400.2" cy="166.3" r="1.75"/><circle cx="400.2" cy="164.4" r="1.75"/><circle cx="400.2" cy="161.3" r="1.75"/><circle cx="400.2" cy="159.9" r="1.75"/><circle cx="400.2" cy="156.0" r="1.75"/><circle cx="400.2" cy="154.5" r="1.75"/><circle cx="400.2" cy="151.8" r="1.75"/><circle cx="400.2" cy="148.1" r="1.75"/><circle cx="400.2" cy="144.0" r="1.75"/><circle cx="400.2" cy="141.8" r="1.75"/><circle cx="400.2" cy="140.8" r="1.75"/><circle cx="400.2" cy="137.2" r="1.75"/><circle cx="400.2" cy="134.7" r="1.75"/><circle cx="400.2" cy="131.9" r="1.75"/><circle cx="400.2" cy="129.9" r="1.75"/><circle cx="400.2" cy="126.7" r="1.75"/><circle cx="402.8" cy="166.3" r="1.75"/><circle cx="402.8" cy="164.2" r="1.75"/><circle cx="402.8" cy="162.2" r="1.75"/><circle cx="402.8" cy="156.4" r="1.75"/><circle cx="402.8" cy="153.4" r="1.75"/><circle cx="402.8" cy="150.6" r="1.75"/><circle cx="402.8" cy="148.0" r="1.75"/><circle cx="402.8" cy="143.7" r="1.75"/><circle cx="402.8" cy="137.4" r="1.75"/><circle cx="402.8" cy="130.9" r="1.75"/><circle cx="402.8" cy="129.0" r="1.75"/><circle cx="402.8" cy="125.8" r="1.75"/><circle cx="405.4" cy="167.3" r="1.75"/><circle cx="405.4" cy="165.2" r="1.75"/><circle cx="405.4" cy="162.1" r="1.75"/><circle cx="405.4" cy="157.8" r="1.75"/><circle cx="405.4" cy="151.9" r="1.75"/><circle cx="405.4" cy="148.0" r="1.75"/><circle cx="405.4" cy="141.7" r="1.75"/><circle cx="405.4" cy="140.0" r="1.75"/><circle cx="405.4" cy="136.4" r="1.75"/><circle cx="405.4" cy="135.2" r="1.75"/><circle cx="405.4" cy="132.0" r="1.75"/><circle cx="405.4" cy="127.9" r="1.75"/><circle cx="405.4" cy="126.8" r="1.75"/><circle cx="405.4" cy="122.6" r="1.75"/><circle cx="408.1" cy="162.7" r="1.75"/><circle cx="408.1" cy="158.2" r="1.75"/><circle cx="408.1" cy="156.8" r="1.75"/><circle cx="408.1" cy="152.4" r="1.75"/><circle cx="408.1" cy="151.8" r="1.75"/><circle cx="408.1" cy="147.4" r="1.75"/><circle cx="408.1" cy="146.5" r="1.75"/><circle cx="408.1" cy="143.2" r="1.75"/><circle cx="408.1" cy="138.8" r="1.75"/><circle cx="408.1" cy="137.1" r="1.75"/><circle cx="408.1" cy="135.7" r="1.75"/><circle cx="408.1" cy="132.7" r="1.75"/><circle cx="408.1" cy="130.1" r="1.75"/><circle cx="408.1" cy="127.5" r="1.75"/><circle cx="408.1" cy="123.4" r="1.75"/><circle cx="408.1" cy="122.3" r="1.75"/><circle cx="410.7" cy="163.2" r="1.75"/><circle cx="410.7" cy="160.8" r="1.75"/><circle cx="410.7" cy="157.9" r="1.75"/><circle cx="410.7" cy="155.3" r="1.75"/><circle cx="410.7" cy="152.9" r="1.75"/><circle cx="410.7" cy="150.1" r="1.75"/><circle cx="410.7" cy="147.2" r="1.75"/><circle cx="410.7" cy="144.0" r="1.75"/><circle cx="410.7" cy="141.3" r="1.75"/><circle cx="410.7" cy="140.1" r="1.75"/><circle cx="410.7" cy="137.2" r="1.75"/><circle cx="410.7" cy="132.7" r="1.75"/><circle cx="410.7" cy="129.2" r="1.75"/><circle cx="410.7" cy="126.2" r="1.75"/><circle cx="410.7" cy="124.3" r="1.75"/><circle cx="410.7" cy="119.3" r="1.75"/><circle cx="413.4" cy="161.8" r="1.75"/><circle cx="413.4" cy="158.4" r="1.75"/><circle cx="413.4" cy="155.1" r="1.75"/><circle cx="413.4" cy="154.1" r="1.75"/><circle cx="413.4" cy="149.8" r="1.75"/><circle cx="413.4" cy="148.9" r="1.75"/><circle cx="413.4" cy="142.1" r="1.75"/><circle cx="413.4" cy="139.4" r="1.75"/><circle cx="413.4" cy="136.3" r="1.75"/><circle cx="413.4" cy="133.9" r="1.75"/><circle cx="413.4" cy="125.8" r="1.75"/><circle cx="413.4" cy="120.7" r="1.75"/><circle cx="413.4" cy="118.1" r="1.75"/><circle cx="413.4" cy="115.7" r="1.75"/><circle cx="416.0" cy="161.5" r="1.75"/><circle cx="416.0" cy="158.2" r="1.75"/><circle cx="416.0" cy="155.8" r="1.75"/><circle cx="416.0" cy="152.1" r="1.75"/><circle cx="416.0" cy="150.0" r="1.75"/><circle cx="416.0" cy="148.1" r="1.75"/><circle cx="416.0" cy="145.8" r="1.75"/><circle cx="416.0" cy="143.7" r="1.75"/><circle cx="416.0" cy="139.5" r="1.75"/><circle cx="416.0" cy="135.2" r="1.75"/><circle cx="416.0" cy="130.6" r="1.75"/><circle cx="416.0" cy="130.2" r="1.75"/><circle cx="416.0" cy="127.1" r="1.75"/><circle cx="416.0" cy="122.8" r="1.75"/><circle cx="416.0" cy="121.1" r="1.75"/><circle cx="416.0" cy="119.2" r="1.75"/><circle cx="416.0" cy="116.0" r="1.75"/><circle cx="418.7" cy="156.6" r="1.75"/><circle cx="418.7" cy="152.1" r="1.75"/><circle cx="418.7" cy="150.3" r="1.75"/><circle cx="418.7" cy="148.9" r="1.75"/><circle cx="418.7" cy="145.7" r="1.75"/><circle cx="418.7" cy="143.1" r="1.75"/><circle cx="418.7" cy="138.6" r="1.75"/><circle cx="418.7" cy="137.9" r="1.75"/><circle cx="418.7" cy="134.7" r="1.75"/><circle cx="418.7" cy="130.7" r="1.75"/><circle cx="418.7" cy="128.5" r="1.75"/><circle cx="418.7" cy="125.9" r="1.75"/><circle cx="418.7" cy="123.0" r="1.75"/><circle cx="418.7" cy="122.4" r="1.75"/><circle cx="418.7" cy="118.1" r="1.75"/><circle cx="418.7" cy="116.2" r="1.75"/><circle cx="418.7" cy="113.4" r="1.75"/><circle cx="418.7" cy="109.2" r="1.75"/><circle cx="421.3" cy="150.0" r="1.75"/><circle cx="421.3" cy="147.5" r="1.75"/><circle cx="421.3" cy="144.0" r="1.75"/><circle cx="421.3" cy="142.0" r="1.75"/><circle cx="421.3" cy="140.5" r="1.75"/><circle cx="421.3" cy="136.7" r="1.75"/><circle cx="421.3" cy="134.5" r="1.75"/><circle cx="421.3" cy="130.8" r="1.75"/><circle cx="421.3" cy="127.8" r="1.75"/><circle cx="421.3" cy="121.0" r="1.75"/><circle cx="421.3" cy="119.7" r="1.75"/><circle cx="421.3" cy="115.1" r="1.75"/><circle cx="421.3" cy="114.2" r="1.75"/><circle cx="421.3" cy="110.6" r="1.75"/><circle cx="423.9" cy="150.8" r="1.75"/><circle cx="423.9" cy="146.2" r="1.75"/><circle cx="423.9" cy="143.7" r="1.75"/><circle cx="423.9" cy="139.2" r="1.75"/><circle cx="423.9" cy="133.3" r="1.75"/><circle cx="423.9" cy="131.9" r="1.75"/><circle cx="423.9" cy="128.7" r="1.75"/><circle cx="423.9" cy="126.1" r="1.75"/><circle cx="423.9" cy="124.7" r="1.75"/><circle cx="423.9" cy="121.8" r="1.75"/><circle cx="423.9" cy="117.4" r="1.75"/><circle cx="423.9" cy="114.1" r="1.75"/><circle cx="423.9" cy="110.0" r="1.75"/><circle cx="423.9" cy="109.0" r="1.75"/><circle cx="426.6" cy="147.6" r="1.75"/><circle cx="426.6" cy="144.7" r="1.75"/><circle cx="426.6" cy="141.6" r="1.75"/><circle cx="426.6" cy="139.4" r="1.75"/><circle cx="426.6" cy="133.9" r="1.75"/><circle cx="426.6" cy="131.0" r="1.75"/><circle cx="426.6" cy="130.4" r="1.75"/><circle cx="426.6" cy="124.2" r="1.75"/><circle cx="426.6" cy="116.3" r="1.75"/><circle cx="426.6" cy="113.7" r="1.75"/><circle cx="426.6" cy="111.0" r="1.75"/><circle cx="426.6" cy="107.1" r="1.75"/><circle cx="429.2" cy="149.2" r="1.75"/><circle cx="429.2" cy="145.3" r="1.75"/><circle cx="429.2" cy="142.1" r="1.75"/><circle cx="429.2" cy="141.2" r="1.75"/><circle cx="429.2" cy="137.7" r="1.75"/><circle cx="429.2" cy="134.7" r="1.75"/><circle cx="429.2" cy="131.0" r="1.75"/><circle cx="429.2" cy="128.4" r="1.75"/><circle cx="429.2" cy="123.0" r="1.75"/><circle cx="429.2" cy="114.8" r="1.75"/><circle cx="429.2" cy="111.9" r="1.75"/><circle cx="429.2" cy="109.2" r="1.75"/><circle cx="429.2" cy="107.0" r="1.75"/><circle cx="429.2" cy="106.0" r="1.75"/><circle cx="389.5" cy="132.6" r="1.75"/><circle cx="392.0" cy="126.4" r="1.75"/><circle cx="394.6" cy="124.9" r="1.75"/><circle cx="399.7" cy="119.8" r="1.75"/><circle cx="400.1" cy="122.4" r="1.75"/><circle cx="403.0" cy="120.9" r="1.75"/><circle cx="405.5" cy="123.8" r="1.75"/><circle cx="409.9" cy="115.4" r="1.75"/><circle cx="413.2" cy="104.5" r="1.75"/><circle cx="415.8" cy="108.5" r="1.75"/><circle cx="415.8" cy="114.3" r="1.75"/><circle cx="421.2" cy="103.4" r="1.75"/><circle cx="426.7" cy="100.8" r="1.75"/><circle cx="428.5" cy="97.9" r="1.75"/><circle cx="413.2" cy="119.8" r="1.75"/><circle cx="413.2" cy="122.7" r="1.75"/></g>
<circle cx="500" cy="29.9" r="1.8" fill="#1c1c96" stroke="#1c1c96" stroke-width="1.2"/>
<polyline points="299.70,195.92 302.20,195.47 304.71,194.99 307.21,194.49 309.71,193.97 312.22,193.43 314.72,192.86 317.23,192.27 319.73,191.65 322.23,191.01 324.74,190.34 327.24,189.64 329.75,188.91 332.25,188.16 334.75,187.37 337.26,186.56 339.76,185.71 342.26,184.82 344.77,183.91 347.27,182.96 349.77,181.97 352.28,180.95 354.78,179.90 357.29,178.80 359.79,177.67 362.29,176.49 364.80,175.28 367.30,174.03 369.81,172.73 372.31,171.39 374.81,170.01 377.32,168.58 379.82,167.11 382.32,165.60 384.83,164.03 387.33,162.42 389.83,160.76 392.34,159.05 394.84,157.30 397.35,155.49 399.85,153.63 402.35,151.71 404.86,149.75 407.36,147.73 409.87,145.65 412.37,143.52 414.87,141.33 417.38,139.09 419.88,136.79 422.38,134.44 424.89,132.02 427.39,129.55 429.89,127.03 432.40,124.44 434.90,121.80 437.41,119.10 439.91,116.34 442.41,113.52 444.92,110.64 447.42,107.71 449.92,104.71 452.43,101.65 454.93,98.54 457.44,95.36 459.94,92.13 462.44,88.83 464.95,85.48 467.45,82.06 469.96,78.58 472.46,75.03 474.96,71.42 477.47,67.74 479.97,63.98 482.47,60.14 484.98,56.22 487.48,52.21 489.99,48.11 492.49,43.92 494.99,39.62 497.50,35.23 500.00,30.73" fill="none" stroke="#000" stroke-width="1.8" stroke-linejoin="round" stroke-linecap="round"/>
<g stroke="#13159a" stroke-width="1.55" fill="#3f84d4"><circle cx="141.8" cy="427.0" r="1.7"/><circle cx="150.8" cy="423.5" r="1.7"/><circle cx="155.4" cy="428.1" r="1.7"/><circle cx="164.8" cy="420.0" r="1.7"/><circle cx="166.5" cy="420.0" r="1.7"/><circle cx="164.2" cy="427.6" r="1.7"/><circle cx="165.9" cy="426.4" r="1.7"/><circle cx="167.7" cy="425.2" r="1.7"/><circle cx="168.3" cy="423.5" r="1.7"/><circle cx="169.5" cy="422.3" r="1.7"/><circle cx="170.0" cy="424.1" r="1.7"/><circle cx="168.9" cy="427.0" r="1.7"/><circle cx="173.5" cy="414.1" r="1.7"/><circle cx="173.5" cy="417.0" r="1.7"/><circle cx="175.3" cy="415.3" r="1.7"/><circle cx="175.9" cy="420.0" r="1.7"/><circle cx="177.0" cy="418.8" r="1.7"/><circle cx="178.2" cy="403.0" r="1.7"/><circle cx="178.8" cy="410.0" r="1.7"/><circle cx="179.4" cy="417.0" r="1.7"/><circle cx="181.1" cy="410.0" r="1.7"/><circle cx="182.9" cy="410.0" r="1.7"/><circle cx="184.1" cy="407.7" r="1.7"/><circle cx="184.6" cy="404.8" r="1.7"/><circle cx="185.2" cy="413.0" r="1.7"/><circle cx="186.4" cy="410.0" r="1.7"/><circle cx="187.0" cy="398.4" r="1.7"/><circle cx="187.6" cy="401.9" r="1.7"/><circle cx="188.7" cy="406.5" r="1.7"/><circle cx="189.3" cy="413.0" r="1.7"/><circle cx="190.5" cy="410.0" r="1.7"/><circle cx="191.1" cy="400.1" r="1.7"/><circle cx="191.6" cy="396.0" r="1.7"/><circle cx="192.2" cy="403.0" r="1.7"/><circle cx="192.8" cy="406.5" r="1.7"/><circle cx="194.0" cy="395.4" r="1.7"/><circle cx="194.6" cy="410.0" r="1.7"/><circle cx="194.6" cy="414.1" r="1.7"/><circle cx="195.7" cy="401.9" r="1.7"/><circle cx="196.3" cy="406.5" r="1.7"/><circle cx="196.9" cy="410.0" r="1.7"/><circle cx="198.1" cy="403.0" r="1.7"/><circle cx="198.6" cy="393.7" r="1.7"/><circle cx="199.2" cy="398.4" r="1.7"/><circle cx="199.8" cy="407.7" r="1.7"/><circle cx="200.4" cy="412.4" r="1.7"/><circle cx="201.0" cy="386.7" r="1.7"/><circle cx="201.6" cy="398.4" r="1.7"/><circle cx="202.7" cy="405.4" r="1.7"/><circle cx="203.3" cy="408.9" r="1.7"/><circle cx="204.5" cy="401.9" r="1.7"/><circle cx="205.1" cy="396.0" r="1.7"/><circle cx="206.2" cy="398.4" r="1.7"/><circle cx="207.4" cy="393.7" r="1.7"/><circle cx="208.6" cy="401.9" r="1.7"/><circle cx="209.7" cy="392.5" r="1.7"/><circle cx="209.7" cy="378.5" r="1.7"/><circle cx="210.9" cy="389.0" r="1.7"/><circle cx="212.1" cy="386.7" r="1.7"/><circle cx="212.1" cy="398.4" r="1.7"/><circle cx="213.2" cy="379.7" r="1.7"/><circle cx="213.2" cy="391.4" r="1.7"/><circle cx="213.8" cy="384.3" r="1.7"/><circle cx="214.4" cy="376.2" r="1.7"/><circle cx="214.4" cy="396.0" r="1.7"/><circle cx="243.9" cy="341.7" r="1.7"/><circle cx="249.1" cy="343.4" r="1.7"/><circle cx="250.9" cy="345.2" r="1.7"/><circle cx="253.2" cy="341.7" r="1.7"/><circle cx="255.0" cy="342.3" r="1.7"/><circle cx="257.3" cy="341.1" r="1.7"/><circle cx="264.9" cy="337.6" r="1.7"/><circle cx="273.6" cy="336.4" r="1.7"/><circle cx="267.2" cy="342.3" r="1.7"/><circle cx="245.0" cy="349.3" r="1.7"/><circle cx="246.8" cy="348.7" r="1.7"/><circle cx="251.5" cy="348.1" r="1.7"/><circle cx="253.8" cy="348.1" r="1.7"/><circle cx="262.0" cy="348.1" r="1.7"/><circle cx="263.7" cy="348.1" r="1.7"/><circle cx="266.1" cy="347.5" r="1.7"/><circle cx="268.4" cy="346.9" r="1.7"/><circle cx="270.1" cy="347.5" r="1.7"/><circle cx="271.9" cy="348.1" r="1.7"/><circle cx="273.6" cy="348.1" r="1.7"/><circle cx="283.0" cy="346.9" r="1.7"/><circle cx="285.3" cy="342.3" r="1.7"/><circle cx="287.1" cy="337.6" r="1.7"/><circle cx="288.8" cy="334.1" r="1.7"/><circle cx="239.8" cy="353.4" r="1.7"/><circle cx="241.5" cy="352.8" r="1.7"/><circle cx="243.9" cy="351.6" r="1.7"/><circle cx="248.5" cy="353.9" r="1.7"/><circle cx="250.9" cy="355.1" r="1.7"/><circle cx="256.1" cy="353.9" r="1.7"/><circle cx="257.9" cy="354.5" r="1.7"/><circle cx="264.3" cy="354.5" r="1.7"/><circle cx="265.5" cy="355.1" r="1.7"/><circle cx="267.2" cy="353.9" r="1.7"/><circle cx="269.6" cy="354.5" r="1.7"/><circle cx="239.2" cy="356.9" r="1.7"/><circle cx="240.4" cy="359.8" r="1.7"/><circle cx="242.7" cy="359.8" r="1.7"/><circle cx="245.6" cy="360.9" r="1.7"/><circle cx="249.1" cy="359.8" r="1.7"/><circle cx="251.5" cy="359.8" r="1.7"/><circle cx="253.8" cy="357.4" r="1.7"/><circle cx="256.1" cy="358.0" r="1.7"/><circle cx="260.2" cy="359.2" r="1.7"/><circle cx="262.0" cy="359.8" r="1.7"/><circle cx="263.7" cy="359.8" r="1.7"/><circle cx="265.5" cy="360.4" r="1.7"/><circle cx="267.8" cy="360.4" r="1.7"/><circle cx="269.6" cy="360.4" r="1.7"/><circle cx="236.9" cy="362.1" r="1.7"/><circle cx="232.8" cy="365.6" r="1.7"/><circle cx="234.5" cy="366.2" r="1.7"/><circle cx="236.9" cy="365.6" r="1.7"/><circle cx="246.8" cy="368.0" r="1.7"/><circle cx="257.9" cy="365.6" r="1.7"/><circle cx="228.1" cy="369.7" r="1.7"/><circle cx="223.4" cy="371.5" r="1.7"/><circle cx="235.1" cy="371.5" r="1.7"/><circle cx="243.9" cy="370.9" r="1.7"/><circle cx="245.0" cy="369.1" r="1.7"/><circle cx="215.8" cy="376.1" r="1.7"/><circle cx="218.2" cy="377.3" r="1.7"/><circle cx="220.5" cy="375.0" r="1.7"/><circle cx="222.8" cy="376.1" r="1.7"/><circle cx="225.2" cy="377.9" r="1.7"/><circle cx="230.4" cy="377.3" r="1.7"/><circle cx="233.4" cy="376.7" r="1.7"/><circle cx="236.3" cy="376.1" r="1.7"/><circle cx="240.4" cy="376.1" r="1.7"/><circle cx="242.7" cy="375.5" r="1.7"/><circle cx="245.0" cy="376.7" r="1.7"/><circle cx="247.4" cy="377.9" r="1.7"/><circle cx="215.8" cy="381.4" r="1.7"/><circle cx="218.8" cy="380.8" r="1.7"/><circle cx="221.7" cy="382.6" r="1.7"/><circle cx="224.0" cy="381.4" r="1.7"/><circle cx="226.4" cy="380.2" r="1.7"/><circle cx="228.7" cy="381.4" r="1.7"/><circle cx="231.6" cy="380.2" r="1.7"/><circle cx="233.4" cy="382.0" r="1.7"/><circle cx="236.9" cy="380.2" r="1.7"/><circle cx="239.2" cy="379.1" r="1.7"/><circle cx="217.0" cy="384.3" r="1.7"/><circle cx="220.5" cy="384.9" r="1.7"/><circle cx="222.8" cy="386.1" r="1.7"/><circle cx="227.5" cy="384.3" r="1.7"/><circle cx="230.4" cy="384.9" r="1.7"/><circle cx="233.4" cy="383.7" r="1.7"/><circle cx="217.0" cy="387.2" r="1.7"/><circle cx="219.3" cy="388.4" r="1.7"/><circle cx="225.2" cy="387.8" r="1.7"/><circle cx="229.9" cy="389.0" r="1.7"/><circle cx="221.1" cy="392.6" r="1.7"/><circle cx="225.8" cy="397.3" r="1.7"/><circle cx="225.8" cy="399.6" r="1.7"/><circle cx="287.4" cy="324.1" r="1.7"/><circle cx="301.0" cy="321.8" r="1.7"/><circle cx="301.0" cy="324.1" r="1.7"/><circle cx="305.8" cy="318.3" r="1.7"/><circle cx="290.3" cy="333.7" r="1.7"/><circle cx="292.0" cy="333.7" r="1.7"/><circle cx="292.0" cy="335.8" r="1.7"/></g>
<polyline points="141.75,426.83 143.80,426.41 145.85,425.97 147.90,425.51 149.95,425.02 152.00,424.50 154.05,423.96 156.10,423.39 158.15,422.79 160.19,422.16 162.24,421.50 164.29,420.82 166.34,420.10 168.39,419.36 170.44,418.58 172.49,417.77 174.54,416.93 176.59,416.06 178.64,415.15 180.69,414.21 182.74,413.24 184.79,412.23 186.84,411.19 188.89,410.11 190.94,409.00 192.98,407.85 195.03,406.66 197.08,405.43 199.13,404.17 201.18,402.87 203.23,401.53 205.28,400.15 207.33,398.73 209.38,397.27 211.43,395.76 213.48,394.22 215.53,392.63 217.58,391.01 219.63,389.34 221.68,387.62 223.72,385.86 225.77,384.06 227.82,382.21 229.87,380.32 231.92,378.38 233.97,376.39 236.02,374.36 238.07,372.27 240.12,370.14 242.17,367.97 244.22,365.74 246.27,363.46 248.32,361.14 250.37,358.76 252.42,356.33 254.47,353.85 256.51,351.32 258.56,348.73 260.61,346.09 262.66,343.40 264.71,340.65 266.76,337.85 268.81,335.00 270.86,332.09 272.91,329.12 274.96,326.09 277.01,323.01 279.06,319.87 281.11,316.67 283.16,313.42 285.21,310.10 287.26,306.73 289.31,303.29 291.35,299.79 293.40,296.24 295.45,292.62 297.50,288.94 299.55,285.19 301.60,281.38 303.65,277.51 305.70,273.58" fill="none" stroke="#000" stroke-width="1.9" stroke-linejoin="round" stroke-linecap="round"/>
<g stroke="#13159a" stroke-width="1.55" fill="#3f84d4"><circle cx="480.3" cy="424.1" r="1.7"/><circle cx="505.4" cy="414.1" r="1.7"/><circle cx="505.4" cy="422.3" r="1.7"/><circle cx="505.4" cy="424.6" r="1.7"/><circle cx="510.0" cy="422.3" r="1.7"/><circle cx="511.2" cy="420.0" r="1.7"/><circle cx="513.0" cy="417.0" r="1.7"/><circle cx="513.5" cy="414.1" r="1.7"/><circle cx="515.3" cy="415.9" r="1.7"/><circle cx="515.9" cy="402.4" r="1.7"/><circle cx="517.6" cy="413.5" r="1.7"/><circle cx="518.2" cy="421.1" r="1.7"/><circle cx="519.4" cy="404.8" r="1.7"/><circle cx="520.0" cy="411.2" r="1.7"/><circle cx="520.5" cy="418.2" r="1.7"/><circle cx="521.1" cy="415.3" r="1.7"/><circle cx="521.7" cy="408.3" r="1.7"/><circle cx="522.9" cy="421.1" r="1.7"/><circle cx="523.5" cy="413.5" r="1.7"/><circle cx="524.1" cy="418.8" r="1.7"/><circle cx="523.5" cy="406.5" r="1.7"/><circle cx="526.4" cy="405.9" r="1.7"/><circle cx="528.1" cy="398.4" r="1.7"/><circle cx="528.7" cy="403.6" r="1.7"/><circle cx="528.7" cy="412.4" r="1.7"/><circle cx="531.1" cy="399.5" r="1.7"/><circle cx="531.1" cy="404.2" r="1.7"/><circle cx="531.6" cy="409.5" r="1.7"/><circle cx="531.6" cy="414.1" r="1.7"/><circle cx="538.6" cy="386.1" r="1.7"/><circle cx="538.6" cy="395.4" r="1.7"/><circle cx="538.6" cy="389.6" r="1.7"/><circle cx="541.0" cy="410.0" r="1.7"/><circle cx="541.0" cy="406.5" r="1.7"/><circle cx="541.6" cy="392.5" r="1.7"/><circle cx="542.7" cy="397.8" r="1.7"/><circle cx="543.3" cy="404.2" r="1.7"/><circle cx="543.9" cy="377.3" r="1.7"/><circle cx="544.5" cy="380.3" r="1.7"/><circle cx="545.1" cy="386.1" r="1.7"/><circle cx="545.1" cy="393.1" r="1.7"/><circle cx="545.1" cy="400.1" r="1.7"/><circle cx="546.2" cy="405.4" r="1.7"/><circle cx="546.8" cy="383.8" r="1.7"/><circle cx="547.4" cy="389.0" r="1.7"/><circle cx="548.0" cy="396.6" r="1.7"/><circle cx="548.6" cy="379.1" r="1.7"/><circle cx="549.2" cy="402.4" r="1.7"/><circle cx="549.7" cy="393.1" r="1.7"/><circle cx="550.3" cy="375.6" r="1.7"/><circle cx="550.9" cy="386.7" r="1.7"/><circle cx="551.5" cy="406.5" r="1.7"/><circle cx="552.1" cy="382.0" r="1.7"/><circle cx="552.7" cy="400.1" r="1.7"/><circle cx="553.2" cy="391.4" r="1.7"/><circle cx="553.8" cy="376.2" r="1.7"/><circle cx="554.4" cy="395.4" r="1.7"/><circle cx="554.4" cy="384.9" r="1.7"/><circle cx="597.5" cy="335.8" r="1.7"/><circle cx="600.4" cy="338.2" r="1.7"/><circle cx="603.3" cy="340.5" r="1.7"/><circle cx="607.4" cy="337.0" r="1.7"/><circle cx="610.3" cy="342.3" r="1.7"/><circle cx="591.1" cy="345.2" r="1.7"/><circle cx="593.4" cy="342.8" r="1.7"/><circle cx="595.7" cy="341.7" r="1.7"/><circle cx="598.6" cy="344.6" r="1.7"/><circle cx="601.6" cy="344.0" r="1.7"/><circle cx="605.1" cy="347.5" r="1.7"/><circle cx="586.4" cy="348.1" r="1.7"/><circle cx="588.7" cy="349.9" r="1.7"/><circle cx="592.2" cy="348.7" r="1.7"/><circle cx="595.1" cy="349.3" r="1.7"/><circle cx="598.6" cy="348.7" r="1.7"/><circle cx="602.2" cy="350.4" r="1.7"/><circle cx="605.1" cy="351.6" r="1.7"/><circle cx="577.0" cy="351.0" r="1.7"/><circle cx="566.5" cy="355.1" r="1.7"/><circle cx="572.4" cy="354.5" r="1.7"/><circle cx="579.4" cy="355.1" r="1.7"/><circle cx="584.1" cy="354.5" r="1.7"/><circle cx="586.4" cy="355.7" r="1.7"/><circle cx="589.9" cy="353.4" r="1.7"/><circle cx="593.4" cy="354.5" r="1.7"/><circle cx="596.9" cy="355.1" r="1.7"/><circle cx="600.4" cy="353.4" r="1.7"/><circle cx="603.9" cy="355.1" r="1.7"/><circle cx="606.2" cy="356.9" r="1.7"/><circle cx="568.9" cy="359.8" r="1.7"/><circle cx="572.4" cy="359.2" r="1.7"/><circle cx="575.9" cy="360.4" r="1.7"/><circle cx="579.4" cy="358.6" r="1.7"/><circle cx="582.9" cy="359.2" r="1.7"/><circle cx="586.4" cy="359.8" r="1.7"/><circle cx="589.9" cy="358.6" r="1.7"/><circle cx="593.4" cy="358.0" r="1.7"/><circle cx="596.9" cy="359.2" r="1.7"/><circle cx="600.4" cy="358.6" r="1.7"/><circle cx="605.1" cy="360.4" r="1.7"/><circle cx="558.4" cy="363.3" r="1.7"/><circle cx="561.9" cy="363.3" r="1.7"/><circle cx="570.0" cy="363.3" r="1.7"/><circle cx="573.5" cy="363.9" r="1.7"/><circle cx="577.0" cy="365.0" r="1.7"/><circle cx="580.5" cy="364.5" r="1.7"/><circle cx="584.1" cy="362.7" r="1.7"/><circle cx="587.6" cy="363.9" r="1.7"/><circle cx="591.1" cy="364.5" r="1.7"/><circle cx="594.6" cy="365.0" r="1.7"/><circle cx="598.1" cy="364.5" r="1.7"/><circle cx="607.4" cy="363.9" r="1.7"/><circle cx="553.7" cy="368.0" r="1.7"/><circle cx="557.2" cy="368.5" r="1.7"/><circle cx="561.9" cy="367.4" r="1.7"/><circle cx="565.4" cy="369.7" r="1.7"/><circle cx="568.9" cy="368.0" r="1.7"/><circle cx="572.4" cy="368.5" r="1.7"/><circle cx="575.9" cy="367.4" r="1.7"/><circle cx="579.4" cy="368.5" r="1.7"/><circle cx="582.9" cy="367.4" r="1.7"/><circle cx="586.4" cy="369.1" r="1.7"/><circle cx="589.9" cy="368.5" r="1.7"/><circle cx="550.2" cy="372.0" r="1.7"/><circle cx="553.7" cy="372.0" r="1.7"/><circle cx="557.2" cy="372.6" r="1.7"/><circle cx="564.2" cy="371.5" r="1.7"/><circle cx="567.7" cy="371.5" r="1.7"/><circle cx="571.2" cy="370.9" r="1.7"/><circle cx="574.7" cy="372.6" r="1.7"/><circle cx="578.2" cy="372.0" r="1.7"/><circle cx="581.7" cy="372.0" r="1.7"/><circle cx="585.2" cy="371.5" r="1.7"/><circle cx="588.7" cy="371.5" r="1.7"/><circle cx="592.2" cy="371.5" r="1.7"/><circle cx="602.7" cy="371.5" r="1.7"/><circle cx="554.9" cy="375.5" r="1.7"/><circle cx="563.0" cy="376.7" r="1.7"/><circle cx="566.5" cy="376.1" r="1.7"/><circle cx="570.0" cy="376.7" r="1.7"/><circle cx="573.5" cy="376.1" r="1.7"/><circle cx="577.0" cy="375.5" r="1.7"/><circle cx="580.5" cy="377.3" r="1.7"/><circle cx="584.1" cy="376.7" r="1.7"/><circle cx="587.6" cy="376.1" r="1.7"/><circle cx="592.2" cy="377.3" r="1.7"/><circle cx="556.0" cy="381.4" r="1.7"/><circle cx="559.5" cy="380.2" r="1.7"/><circle cx="563.0" cy="380.8" r="1.7"/><circle cx="566.5" cy="382.0" r="1.7"/><circle cx="570.0" cy="380.8" r="1.7"/><circle cx="573.5" cy="381.4" r="1.7"/><circle cx="577.0" cy="380.2" r="1.7"/><circle cx="580.5" cy="381.4" r="1.7"/><circle cx="584.1" cy="381.4" r="1.7"/><circle cx="592.2" cy="381.4" r="1.7"/><circle cx="558.4" cy="387.2" r="1.7"/><circle cx="564.2" cy="386.1" r="1.7"/><circle cx="567.7" cy="387.8" r="1.7"/><circle cx="571.2" cy="387.2" r="1.7"/><circle cx="574.7" cy="386.1" r="1.7"/><circle cx="585.2" cy="387.8" r="1.7"/><circle cx="559.1" cy="409.5" r="1.7"/><circle cx="574.3" cy="395.3" r="1.7"/><circle cx="557.3" cy="400.8" r="1.7"/><circle cx="559.7" cy="400.8" r="1.7"/><circle cx="556.2" cy="396.7" r="1.7"/><circle cx="559.1" cy="396.7" r="1.7"/><circle cx="562.0" cy="396.7" r="1.7"/><circle cx="564.9" cy="395.5" r="1.7"/><circle cx="567.3" cy="393.8" r="1.7"/><circle cx="569.6" cy="394.3" r="1.7"/><circle cx="562.0" cy="392.0" r="1.7"/><circle cx="564.9" cy="392.0" r="1.7"/><circle cx="567.3" cy="391.4" r="1.7"/><circle cx="570.2" cy="391.4" r="1.7"/><circle cx="556.2" cy="393.2" r="1.7"/><circle cx="605.3" cy="328.7" r="1.7"/><circle cx="628.1" cy="315.8" r="1.7"/><circle cx="630.7" cy="316.3" r="1.7"/><circle cx="630.7" cy="314.1" r="1.7"/><circle cx="633.3" cy="311.9" r="1.7"/><circle cx="636.0" cy="313.8" r="1.7"/><circle cx="628.1" cy="322.6" r="1.7"/><circle cx="574.3" cy="361.0" r="1.7"/><circle cx="566.5" cy="391.9" r="1.7"/><circle cx="577.2" cy="363.1" r="1.7"/><circle cx="604.9" cy="339.6" r="1.7"/><circle cx="596.7" cy="355.9" r="1.7"/><circle cx="558.5" cy="391.2" r="1.7"/><circle cx="549.6" cy="375.5" r="1.7"/><circle cx="581.5" cy="361.5" r="1.7"/><circle cx="584.4" cy="365.1" r="1.7"/><circle cx="558.9" cy="375.7" r="1.7"/><circle cx="568.5" cy="356.6" r="1.7"/><circle cx="554.0" cy="375.0" r="1.7"/><circle cx="587.8" cy="355.8" r="1.7"/><circle cx="605.2" cy="344.4" r="1.7"/><circle cx="566.1" cy="387.2" r="1.7"/><circle cx="590.2" cy="374.9" r="1.7"/><circle cx="597.9" cy="357.5" r="1.7"/><circle cx="585.4" cy="376.3" r="1.7"/><circle cx="577.4" cy="367.1" r="1.7"/><circle cx="570.0" cy="381.0" r="1.7"/><circle cx="541.2" cy="383.5" r="1.7"/><circle cx="594.2" cy="355.6" r="1.7"/><circle cx="563.9" cy="381.3" r="1.7"/><circle cx="541.1" cy="388.0" r="1.7"/><circle cx="564.2" cy="394.9" r="1.7"/><circle cx="562.0" cy="395.7" r="1.7"/><circle cx="603.7" cy="346.6" r="1.7"/><circle cx="553.2" cy="369.0" r="1.7"/><circle cx="578.0" cy="354.1" r="1.7"/><circle cx="562.7" cy="374.4" r="1.7"/><circle cx="572.9" cy="377.9" r="1.7"/><circle cx="564.3" cy="363.2" r="1.7"/><circle cx="544.2" cy="379.0" r="1.7"/><circle cx="538.8" cy="395.1" r="1.7"/><circle cx="569.4" cy="368.9" r="1.7"/><circle cx="594.7" cy="347.3" r="1.7"/><circle cx="538.6" cy="400.2" r="1.7"/><circle cx="548.6" cy="388.2" r="1.7"/><circle cx="574.1" cy="388.7" r="1.7"/><circle cx="552.8" cy="371.2" r="1.7"/><circle cx="555.0" cy="382.9" r="1.7"/><circle cx="603.5" cy="360.9" r="1.7"/><circle cx="595.5" cy="368.6" r="1.7"/><circle cx="542.9" cy="380.8" r="1.7"/><circle cx="589.2" cy="368.5" r="1.7"/><circle cx="549.4" cy="389.4" r="1.7"/><circle cx="560.1" cy="390.2" r="1.7"/><circle cx="587.4" cy="347.9" r="1.7"/><circle cx="547.2" cy="391.9" r="1.7"/><circle cx="561.4" cy="373.3" r="1.7"/><circle cx="594.5" cy="350.6" r="1.7"/><circle cx="553.7" cy="375.8" r="1.7"/><circle cx="546.1" cy="397.5" r="1.7"/><circle cx="561.6" cy="367.2" r="1.7"/><circle cx="571.9" cy="372.1" r="1.7"/><circle cx="587.5" cy="373.8" r="1.7"/><circle cx="559.7" cy="371.2" r="1.7"/><circle cx="575.7" cy="389.0" r="1.7"/><circle cx="590.7" cy="370.5" r="1.7"/><circle cx="576.1" cy="387.4" r="1.7"/><circle cx="579.6" cy="370.4" r="1.7"/><circle cx="572.6" cy="382.9" r="1.7"/><circle cx="568.5" cy="372.2" r="1.7"/><circle cx="602.6" cy="353.9" r="1.7"/><circle cx="595.5" cy="345.7" r="1.7"/><circle cx="542.1" cy="381.4" r="1.7"/><circle cx="547.7" cy="384.5" r="1.7"/><circle cx="552.3" cy="400.3" r="1.7"/><circle cx="564.7" cy="369.1" r="1.7"/><circle cx="572.9" cy="359.2" r="1.7"/></g>
<polyline points="480.20,424.34 482.15,423.96 484.10,423.57 486.05,423.16 488.00,422.72 489.95,422.27 491.90,421.79 493.85,421.30 495.80,420.78 497.75,420.24 499.70,419.68 501.65,419.10 503.60,418.49 505.55,417.86 507.50,417.21 509.45,416.52 511.40,415.82 513.35,415.09 515.30,414.33 517.25,413.55 519.20,412.73 521.15,411.90 523.10,411.03 525.05,410.13 527.00,409.21 528.95,408.25 530.90,407.27 532.85,406.25 534.80,405.21 536.75,404.13 538.70,403.02 540.65,401.88 542.60,400.70 544.55,399.50 546.50,398.25 548.45,396.98 550.40,395.66 552.35,394.31 554.30,392.92 556.25,391.49 558.20,390.01 560.15,388.50 562.10,386.94 564.05,385.33 566.00,383.68 567.95,381.98 569.90,380.24 571.85,378.44 573.80,376.59 575.75,374.70 577.70,372.76 579.65,370.77 581.60,368.74 583.55,366.66 585.50,364.53 587.45,362.37 589.40,360.17 591.35,357.92 593.30,355.64 595.25,353.31 597.20,350.95 599.15,348.56 601.10,346.13 603.05,343.67 605.00,341.17 606.95,338.64 608.90,336.09 610.85,333.50 612.80,330.88 614.75,328.24 616.70,325.57 618.65,322.88 620.60,320.16 622.55,317.42 624.50,314.66 626.45,311.88 628.40,309.08 630.35,306.26 632.30,303.42 634.25,300.57 636.20,297.70" fill="none" stroke="#000" stroke-width="1.9" stroke-linejoin="round" stroke-linecap="round"/>
<g stroke="#13159a" stroke-width="1.55" fill="#3f84d4"><circle cx="134.9" cy="663.5" r="1.7"/><circle cx="134.9" cy="665.8" r="1.7"/><circle cx="140.2" cy="657.0" r="1.7"/><circle cx="142.5" cy="660.0" r="1.7"/><circle cx="147.2" cy="654.1" r="1.7"/><circle cx="149.5" cy="648.9" r="1.7"/><circle cx="151.9" cy="668.1" r="1.7"/><circle cx="154.2" cy="666.4" r="1.7"/><circle cx="156.5" cy="665.8" r="1.7"/><circle cx="156.5" cy="659.4" r="1.7"/><circle cx="158.9" cy="657.6" r="1.7"/><circle cx="162.4" cy="660.0" r="1.7"/><circle cx="163.5" cy="667.6" r="1.7"/><circle cx="165.9" cy="663.5" r="1.7"/><circle cx="163.5" cy="642.4" r="1.7"/><circle cx="168.8" cy="642.4" r="1.7"/><circle cx="170.5" cy="640.1" r="1.7"/><circle cx="170.5" cy="643.6" r="1.7"/><circle cx="170.0" cy="653.5" r="1.7"/><circle cx="170.5" cy="657.0" r="1.7"/><circle cx="171.1" cy="660.5" r="1.7"/><circle cx="172.9" cy="658.8" r="1.7"/><circle cx="174.1" cy="656.5" r="1.7"/><circle cx="175.2" cy="650.0" r="1.7"/><circle cx="176.4" cy="654.7" r="1.7"/><circle cx="178.1" cy="656.5" r="1.7"/><circle cx="179.9" cy="647.1" r="1.7"/><circle cx="182.2" cy="645.9" r="1.7"/><circle cx="182.2" cy="642.4" r="1.7"/><circle cx="183.4" cy="650.0" r="1.7"/><circle cx="184.6" cy="641.9" r="1.7"/><circle cx="184.6" cy="653.5" r="1.7"/><circle cx="185.7" cy="650.0" r="1.7"/><circle cx="186.9" cy="648.9" r="1.7"/><circle cx="188.6" cy="629.0" r="1.7"/><circle cx="188.6" cy="635.4" r="1.7"/><circle cx="188.6" cy="641.3" r="1.7"/><circle cx="189.2" cy="653.5" r="1.7"/><circle cx="190.4" cy="646.5" r="1.7"/><circle cx="191.6" cy="637.8" r="1.7"/><circle cx="192.7" cy="643.0" r="1.7"/><circle cx="193.3" cy="651.2" r="1.7"/><circle cx="195.1" cy="648.9" r="1.7"/><circle cx="196.2" cy="633.1" r="1.7"/><circle cx="196.8" cy="651.8" r="1.7"/><circle cx="197.4" cy="644.2" r="1.7"/><circle cx="198.0" cy="640.1" r="1.7"/><circle cx="199.2" cy="637.2" r="1.7"/><circle cx="199.7" cy="645.9" r="1.7"/><circle cx="200.9" cy="623.8" r="1.7"/><circle cx="202.1" cy="636.0" r="1.7"/><circle cx="202.7" cy="643.0" r="1.7"/><circle cx="203.2" cy="620.3" r="1.7"/><circle cx="203.8" cy="647.7" r="1.7"/><circle cx="204.4" cy="639.5" r="1.7"/><circle cx="204.4" cy="626.7" r="1.7"/><circle cx="179.9" cy="652.4" r="1.7"/><circle cx="183.4" cy="652.4" r="1.7"/><circle cx="186.9" cy="652.4" r="1.7"/><circle cx="190.4" cy="650.0" r="1.7"/><circle cx="193.9" cy="646.5" r="1.7"/><circle cx="197.4" cy="647.7" r="1.7"/><circle cx="200.9" cy="645.4" r="1.7"/><circle cx="195.1" cy="640.7" r="1.7"/><circle cx="199.7" cy="640.7" r="1.7"/><circle cx="190.4" cy="643.0" r="1.7"/><circle cx="217.5" cy="601.8" r="1.7"/><circle cx="222.2" cy="602.3" r="1.7"/><circle cx="231.5" cy="603.5" r="1.7"/><circle cx="240.9" cy="601.2" r="1.7"/><circle cx="247.9" cy="601.2" r="1.7"/><circle cx="251.4" cy="600.6" r="1.7"/><circle cx="212.8" cy="605.3" r="1.7"/><circle cx="215.2" cy="608.2" r="1.7"/><circle cx="219.3" cy="607.0" r="1.7"/><circle cx="222.2" cy="609.3" r="1.7"/><circle cx="225.1" cy="609.9" r="1.7"/><circle cx="228.0" cy="609.3" r="1.7"/><circle cx="230.4" cy="608.8" r="1.7"/><circle cx="235.0" cy="608.2" r="1.7"/><circle cx="238.5" cy="607.6" r="1.7"/><circle cx="243.2" cy="609.3" r="1.7"/><circle cx="253.1" cy="611.7" r="1.7"/><circle cx="248.5" cy="614.6" r="1.7"/><circle cx="245.5" cy="616.9" r="1.7"/><circle cx="240.9" cy="615.8" r="1.7"/><circle cx="236.2" cy="615.8" r="1.7"/><circle cx="208.2" cy="612.8" r="1.7"/><circle cx="210.5" cy="614.6" r="1.7"/><circle cx="215.2" cy="612.8" r="1.7"/><circle cx="218.7" cy="612.3" r="1.7"/><circle cx="221.0" cy="614.0" r="1.7"/><circle cx="223.9" cy="612.8" r="1.7"/><circle cx="226.9" cy="612.8" r="1.7"/><circle cx="230.4" cy="615.2" r="1.7"/><circle cx="232.7" cy="614.0" r="1.7"/><circle cx="208.2" cy="618.1" r="1.7"/><circle cx="211.7" cy="619.9" r="1.7"/><circle cx="215.2" cy="618.1" r="1.7"/><circle cx="217.5" cy="617.5" r="1.7"/><circle cx="220.4" cy="619.3" r="1.7"/><circle cx="223.4" cy="617.5" r="1.7"/><circle cx="226.9" cy="618.7" r="1.7"/><circle cx="229.8" cy="618.7" r="1.7"/><circle cx="232.7" cy="620.4" r="1.7"/><circle cx="234.5" cy="621.6" r="1.7"/><circle cx="205.8" cy="622.2" r="1.7"/><circle cx="208.8" cy="623.4" r="1.7"/><circle cx="211.7" cy="624.5" r="1.7"/><circle cx="215.2" cy="622.8" r="1.7"/><circle cx="218.1" cy="622.2" r="1.7"/><circle cx="221.0" cy="623.4" r="1.7"/><circle cx="224.5" cy="623.9" r="1.7"/><circle cx="228.0" cy="622.8" r="1.7"/><circle cx="231.5" cy="624.5" r="1.7"/><circle cx="205.8" cy="626.9" r="1.7"/><circle cx="208.2" cy="628.6" r="1.7"/><circle cx="211.7" cy="628.0" r="1.7"/><circle cx="214.6" cy="626.9" r="1.7"/><circle cx="217.5" cy="626.3" r="1.7"/><circle cx="221.0" cy="626.9" r="1.7"/><circle cx="223.9" cy="628.0" r="1.7"/><circle cx="226.9" cy="630.4" r="1.7"/><circle cx="231.5" cy="628.6" r="1.7"/><circle cx="205.3" cy="631.5" r="1.7"/><circle cx="208.2" cy="632.7" r="1.7"/><circle cx="211.7" cy="632.1" r="1.7"/><circle cx="215.2" cy="633.3" r="1.7"/><circle cx="218.7" cy="631.5" r="1.7"/><circle cx="222.2" cy="632.7" r="1.7"/><circle cx="225.1" cy="635.0" r="1.7"/><circle cx="205.8" cy="636.2" r="1.7"/><circle cx="208.8" cy="637.4" r="1.7"/><circle cx="211.7" cy="636.2" r="1.7"/><circle cx="215.2" cy="635.6" r="1.7"/><circle cx="218.7" cy="635.0" r="1.7"/><circle cx="205.8" cy="640.3" r="1.7"/><circle cx="209.3" cy="640.3" r="1.7"/><circle cx="212.8" cy="639.7" r="1.7"/><circle cx="207.0" cy="644.4" r="1.7"/><circle cx="208.2" cy="646.7" r="1.7"/><circle cx="205.8" cy="648.5" r="1.7"/><circle cx="217.5" cy="645.5" r="1.7"/><circle cx="217.5" cy="647.9" r="1.7"/><circle cx="264.8" cy="562.5" r="1.7"/><circle cx="267.2" cy="565.4" r="1.7"/><circle cx="262.5" cy="566.6" r="1.7"/><circle cx="264.8" cy="569.5" r="1.7"/><circle cx="257.2" cy="567.8" r="1.7"/><circle cx="259.6" cy="570.7" r="1.7"/><circle cx="257.2" cy="574.8" r="1.7"/><circle cx="271.8" cy="575.9" r="1.7"/><circle cx="262.5" cy="578.9" r="1.7"/><circle cx="267.2" cy="580.0" r="1.7"/><circle cx="243.2" cy="578.3" r="1.7"/><circle cx="243.2" cy="582.4" r="1.7"/><circle cx="236.8" cy="583.5" r="1.7"/><circle cx="229.2" cy="584.7" r="1.7"/><circle cx="240.9" cy="588.2" r="1.7"/><circle cx="243.8" cy="587.6" r="1.7"/><circle cx="236.2" cy="590.5" r="1.7"/><circle cx="231.5" cy="592.9" r="1.7"/><circle cx="226.9" cy="594.6" r="1.7"/><circle cx="250.8" cy="584.7" r="1.7"/><circle cx="253.1" cy="588.2" r="1.7"/><circle cx="255.5" cy="585.3" r="1.7"/><circle cx="257.8" cy="583.5" r="1.7"/><circle cx="257.2" cy="585.9" r="1.7"/><circle cx="263.1" cy="587.0" r="1.7"/><circle cx="265.4" cy="587.0" r="1.7"/><circle cx="264.2" cy="592.9" r="1.7"/><circle cx="270.1" cy="591.7" r="1.7"/><circle cx="272.4" cy="591.7" r="1.7"/><circle cx="271.8" cy="598.1" r="1.7"/><circle cx="259.6" cy="597.0" r="1.7"/><circle cx="245.5" cy="594.1" r="1.7"/><circle cx="243.2" cy="596.4" r="1.7"/><circle cx="250.8" cy="596.4" r="1.7"/><circle cx="251.4" cy="599.3" r="1.7"/><circle cx="306.4" cy="516.3" r="1.7"/><circle cx="285.9" cy="543.0" r="1.7"/><circle cx="297.3" cy="543.0" r="1.7"/><circle cx="297.3" cy="545.6" r="1.7"/><circle cx="300.0" cy="553.8" r="1.7"/><circle cx="302.6" cy="558.7" r="1.7"/><circle cx="302.6" cy="561.6" r="1.7"/><circle cx="290.3" cy="562.8" r="1.7"/><circle cx="288.0" cy="569.2" r="1.7"/><circle cx="290.6" cy="571.6" r="1.7"/><circle cx="292.8" cy="571.2" r="1.7"/><circle cx="290.6" cy="573.8" r="1.7"/><circle cx="288.0" cy="577.6" r="1.7"/><circle cx="283.5" cy="577.9" r="1.7"/><circle cx="283.5" cy="584.9" r="1.7"/></g>
<polyline points="135.30,666.55 137.44,666.07 139.59,665.57 141.73,665.05 143.88,664.50 146.02,663.93 148.16,663.34 150.31,662.72 152.45,662.07 154.59,661.40 156.74,660.71 158.88,659.98 161.03,659.23 163.17,658.45 165.31,657.65 167.46,656.81 169.60,655.94 171.74,655.05 173.89,654.12 176.03,653.17 178.18,652.18 180.32,651.16 182.46,650.11 184.61,649.02 186.75,647.90 188.89,646.75 191.04,645.56 193.18,644.34 195.33,643.08 197.47,641.79 199.61,640.46 201.76,639.09 203.90,637.69 206.04,636.24 208.19,634.76 210.33,633.24 212.48,631.68 214.62,630.08 216.76,628.43 218.91,626.75 221.05,625.03 223.19,623.26 225.34,621.45 227.48,619.59 229.62,617.70 231.77,615.75 233.91,613.77 236.06,611.73 238.20,609.66 240.34,607.53 242.49,605.36 244.63,603.14 246.78,600.88 248.92,598.57 251.06,596.21 253.21,593.82 255.35,591.39 257.49,588.92 259.64,586.42 261.78,583.88 263.93,581.32 266.07,578.73 268.21,576.11 270.36,573.47 272.50,570.81 274.64,568.13 276.79,565.43 278.93,562.70 281.08,559.94 283.22,557.14 285.36,554.29 287.51,551.39 289.65,548.44 291.79,545.43 293.94,542.35 296.08,539.18 298.23,535.93 300.37,532.59 302.51,529.13 304.66,525.56 306.80,521.86" fill="none" stroke="#000" stroke-width="1.9" stroke-linejoin="round" stroke-linecap="round"/>
<g stroke="#13159a" stroke-width="1.55" fill="#3f84d4"><circle cx="489.4" cy="649.9" r="1.7"/><circle cx="499.0" cy="658.1" r="1.7"/><circle cx="503.7" cy="654.4" r="1.7"/><circle cx="508.9" cy="653.0" r="1.7"/><circle cx="511.3" cy="641.8" r="1.7"/><circle cx="513.6" cy="645.0" r="1.7"/><circle cx="511.3" cy="664.3" r="1.7"/><circle cx="513.6" cy="660.2" r="1.7"/><circle cx="518.3" cy="659.1" r="1.7"/><circle cx="517.7" cy="650.3" r="1.7"/><circle cx="520.0" cy="649.1" r="1.7"/><circle cx="523.0" cy="644.8" r="1.7"/><circle cx="522.4" cy="647.4" r="1.7"/><circle cx="525.3" cy="656.7" r="1.7"/><circle cx="527.6" cy="657.3" r="1.7"/><circle cx="530.0" cy="635.1" r="1.7"/><circle cx="529.4" cy="655.0" r="1.7"/><circle cx="527.0" cy="641.5" r="1.7"/><circle cx="528.8" cy="645.0" r="1.7"/><circle cx="532.3" cy="623.8" r="1.7"/><circle cx="535.2" cy="623.8" r="1.7"/><circle cx="531.7" cy="639.2" r="1.7"/><circle cx="534.1" cy="635.7" r="1.7"/><circle cx="535.2" cy="643.9" r="1.7"/><circle cx="536.4" cy="631.0" r="1.7"/><circle cx="538.1" cy="648.5" r="1.7"/><circle cx="538.7" cy="635.7" r="1.7"/><circle cx="539.9" cy="632.2" r="1.7"/><circle cx="542.2" cy="618.8" r="1.7"/><circle cx="544.6" cy="617.0" r="1.7"/><circle cx="542.2" cy="627.5" r="1.7"/><circle cx="544.6" cy="625.2" r="1.7"/><circle cx="545.7" cy="633.4" r="1.7"/><circle cx="548.6" cy="612.3" r="1.7"/><circle cx="553.9" cy="614.7" r="1.7"/><circle cx="554.5" cy="617.6" r="1.7"/><circle cx="531.7" cy="650.9" r="1.7"/><circle cx="534.1" cy="654.4" r="1.7"/><circle cx="537.6" cy="652.0" r="1.7"/><circle cx="541.1" cy="647.4" r="1.7"/><circle cx="542.2" cy="643.9" r="1.7"/><circle cx="544.6" cy="648.5" r="1.7"/><circle cx="546.9" cy="645.0" r="1.7"/><circle cx="548.1" cy="641.5" r="1.7"/><circle cx="549.2" cy="647.4" r="1.7"/><circle cx="550.4" cy="639.2" r="1.7"/><circle cx="551.6" cy="643.9" r="1.7"/><circle cx="552.7" cy="635.7" r="1.7"/><circle cx="553.9" cy="640.4" r="1.7"/><circle cx="555.1" cy="632.2" r="1.7"/><circle cx="556.2" cy="624.0" r="1.7"/><circle cx="557.4" cy="638.0" r="1.7"/><circle cx="559.7" cy="633.4" r="1.7"/><circle cx="560.9" cy="619.3" r="1.7"/><circle cx="560.9" cy="627.5" r="1.7"/><circle cx="562.1" cy="612.3" r="1.7"/><circle cx="563.2" cy="649.7" r="1.7"/><circle cx="564.4" cy="624.0" r="1.7"/><circle cx="563.8" cy="633.4" r="1.7"/><circle cx="558.6" cy="611.2" r="1.7"/><circle cx="529.4" cy="652.0" r="1.7"/><circle cx="536.4" cy="655.5" r="1.7"/><circle cx="539.9" cy="650.9" r="1.7"/><circle cx="543.4" cy="646.2" r="1.7"/><circle cx="546.9" cy="640.4" r="1.7"/><circle cx="550.4" cy="636.9" r="1.7"/><circle cx="553.9" cy="643.9" r="1.7"/><circle cx="589.4" cy="562.3" r="1.7"/><circle cx="591.7" cy="562.3" r="1.7"/><circle cx="598.7" cy="561.2" r="1.7"/><circle cx="603.4" cy="560.6" r="1.7"/><circle cx="613.9" cy="567.6" r="1.7"/><circle cx="618.6" cy="575.8" r="1.7"/><circle cx="577.1" cy="568.2" r="1.7"/><circle cx="580.0" cy="571.1" r="1.7"/><circle cx="594.1" cy="571.1" r="1.7"/><circle cx="597.0" cy="572.8" r="1.7"/><circle cx="587.0" cy="575.2" r="1.7"/><circle cx="591.1" cy="576.4" r="1.7"/><circle cx="584.7" cy="578.7" r="1.7"/><circle cx="588.2" cy="579.9" r="1.7"/><circle cx="591.7" cy="580.4" r="1.7"/><circle cx="595.2" cy="578.7" r="1.7"/><circle cx="598.7" cy="577.5" r="1.7"/><circle cx="566.0" cy="583.4" r="1.7"/><circle cx="577.7" cy="582.8" r="1.7"/><circle cx="581.2" cy="582.2" r="1.7"/><circle cx="584.7" cy="582.2" r="1.7"/><circle cx="588.2" cy="582.8" r="1.7"/><circle cx="591.7" cy="583.4" r="1.7"/><circle cx="599.9" cy="585.7" r="1.7"/><circle cx="557.8" cy="590.4" r="1.7"/><circle cx="561.4" cy="588.6" r="1.7"/><circle cx="574.2" cy="590.4" r="1.7"/><circle cx="576.5" cy="588.0" r="1.7"/><circle cx="580.0" cy="587.4" r="1.7"/><circle cx="583.5" cy="586.9" r="1.7"/><circle cx="585.9" cy="589.2" r="1.7"/><circle cx="588.2" cy="586.9" r="1.7"/><circle cx="563.1" cy="594.5" r="1.7"/><circle cx="566.6" cy="592.7" r="1.7"/><circle cx="571.9" cy="593.3" r="1.7"/><circle cx="575.4" cy="594.5" r="1.7"/><circle cx="577.7" cy="591.5" r="1.7"/><circle cx="581.2" cy="591.5" r="1.7"/><circle cx="584.7" cy="592.1" r="1.7"/><circle cx="556.1" cy="598.0" r="1.7"/><circle cx="566.0" cy="596.8" r="1.7"/><circle cx="570.1" cy="597.4" r="1.7"/><circle cx="573.0" cy="598.5" r="1.7"/><circle cx="577.7" cy="598.0" r="1.7"/><circle cx="580.6" cy="596.8" r="1.7"/><circle cx="583.5" cy="596.2" r="1.7"/><circle cx="592.3" cy="596.8" r="1.7"/><circle cx="557.8" cy="602.6" r="1.7"/><circle cx="556.1" cy="605.5" r="1.7"/><circle cx="560.2" cy="603.8" r="1.7"/><circle cx="563.7" cy="603.2" r="1.7"/><circle cx="567.2" cy="604.4" r="1.7"/><circle cx="570.7" cy="602.0" r="1.7"/><circle cx="574.2" cy="603.2" r="1.7"/><circle cx="577.7" cy="600.9" r="1.7"/><circle cx="580.0" cy="604.4" r="1.7"/><circle cx="584.7" cy="603.2" r="1.7"/><circle cx="589.4" cy="602.6" r="1.7"/><circle cx="595.8" cy="605.0" r="1.7"/><circle cx="598.7" cy="604.4" r="1.7"/><circle cx="602.2" cy="602.6" r="1.7"/><circle cx="605.1" cy="600.3" r="1.7"/><circle cx="608.6" cy="598.0" r="1.7"/><circle cx="606.9" cy="599.7" r="1.7"/><circle cx="557.8" cy="609.1" r="1.7"/><circle cx="561.4" cy="609.1" r="1.7"/><circle cx="564.9" cy="607.9" r="1.7"/><circle cx="568.4" cy="606.7" r="1.7"/><circle cx="571.9" cy="607.9" r="1.7"/><circle cx="575.4" cy="606.1" r="1.7"/><circle cx="584.7" cy="607.9" r="1.7"/><circle cx="588.2" cy="607.3" r="1.7"/><circle cx="591.7" cy="609.1" r="1.7"/><circle cx="594.6" cy="608.5" r="1.7"/><circle cx="587.0" cy="612.6" r="1.7"/><circle cx="545.0" cy="607.9" r="1.7"/><circle cx="571.9" cy="612.0" r="1.7"/><circle cx="575.4" cy="614.9" r="1.7"/><circle cx="578.9" cy="614.9" r="1.7"/><circle cx="580.0" cy="617.2" r="1.7"/><circle cx="642.4" cy="520.8" r="1.7"/><circle cx="630.7" cy="526.0" r="1.7"/><circle cx="629.6" cy="529.5" r="1.7"/><circle cx="596.9" cy="558.1" r="1.7"/><circle cx="601.5" cy="559.3" r="1.7"/><circle cx="603.9" cy="558.7" r="1.7"/><circle cx="606.2" cy="558.1" r="1.7"/><circle cx="608.5" cy="557.6" r="1.7"/><circle cx="610.9" cy="557.0" r="1.7"/><circle cx="612.6" cy="556.4" r="1.7"/><circle cx="623.1" cy="554.6" r="1.7"/><circle cx="624.9" cy="554.1" r="1.7"/><circle cx="623.7" cy="557.0" r="1.7"/><circle cx="625.5" cy="557.0" r="1.7"/><circle cx="640.1" cy="552.3" r="1.7"/><circle cx="637.7" cy="555.2" r="1.7"/><circle cx="637.7" cy="558.1" r="1.7"/><circle cx="630.2" cy="568.6" r="1.7"/><circle cx="632.8" cy="566.8" r="1.7"/><circle cx="580.4" cy="615.3" r="1.7"/><circle cx="580.4" cy="620.5" r="1.7"/><circle cx="577.5" cy="620.5" r="1.7"/><circle cx="574.6" cy="620.5" r="1.7"/><circle cx="571.7" cy="620.5" r="1.7"/><circle cx="577.5" cy="617.0" r="1.7"/><circle cx="575.2" cy="614.7" r="1.7"/><circle cx="580.4" cy="628.7" r="1.7"/><circle cx="577.5" cy="625.8" r="1.7"/><circle cx="574.6" cy="625.8" r="1.7"/><circle cx="571.7" cy="626.9" r="1.7"/><circle cx="568.8" cy="628.7" r="1.7"/><circle cx="565.8" cy="628.7" r="1.7"/><circle cx="572.8" cy="617.0" r="1.7"/><circle cx="569.3" cy="619.3" r="1.7"/><circle cx="567.0" cy="621.7" r="1.7"/><circle cx="586.9" cy="612.9" r="1.7"/><circle cx="590.4" cy="611.2" r="1.7"/><circle cx="593.9" cy="610.6" r="1.7"/><circle cx="586.9" cy="610.0" r="1.7"/><circle cx="562.3" cy="632.2" r="1.7"/><circle cx="561.8" cy="635.1" r="1.7"/><circle cx="561.2" cy="638.0" r="1.7"/><circle cx="564.7" cy="625.2" r="1.7"/><circle cx="565.3" cy="627.5" r="1.7"/><circle cx="555.6" cy="626.9" r="1.7"/><circle cx="557.9" cy="628.5" r="1.7"/><circle cx="580.1" cy="611.1" r="1.7"/><circle cx="573.5" cy="623.2" r="1.7"/><circle cx="543.0" cy="649.3" r="1.7"/><circle cx="561.4" cy="627.3" r="1.7"/><circle cx="563.7" cy="630.0" r="1.7"/><circle cx="543.3" cy="637.8" r="1.7"/><circle cx="566.4" cy="623.1" r="1.7"/><circle cx="580.3" cy="614.7" r="1.7"/><circle cx="549.1" cy="646.4" r="1.7"/><circle cx="574.5" cy="624.4" r="1.7"/><circle cx="558.1" cy="631.4" r="1.7"/><circle cx="552.2" cy="641.7" r="1.7"/><circle cx="571.5" cy="622.9" r="1.7"/><circle cx="547.3" cy="642.0" r="1.7"/><circle cx="579.1" cy="616.3" r="1.7"/><circle cx="546.4" cy="636.9" r="1.7"/><circle cx="554.5" cy="639.4" r="1.7"/><circle cx="527.3" cy="652.2" r="1.7"/><circle cx="551.8" cy="632.8" r="1.7"/><circle cx="571.9" cy="616.8" r="1.7"/><circle cx="527.2" cy="656.0" r="1.7"/><circle cx="535.2" cy="647.1" r="1.7"/><circle cx="540.3" cy="643.1" r="1.7"/><circle cx="578.9" cy="626.9" r="1.7"/><circle cx="567.5" cy="632.5" r="1.7"/><circle cx="535.8" cy="647.9" r="1.7"/><circle cx="544.4" cy="648.5" r="1.7"/><circle cx="579.8" cy="628.4" r="1.7"/><circle cx="534.0" cy="649.8" r="1.7"/><circle cx="545.3" cy="636.0" r="1.7"/><circle cx="571.8" cy="619.3" r="1.7"/><circle cx="533.2" cy="653.9" r="1.7"/><circle cx="553.7" cy="635.2" r="1.7"/><circle cx="559.9" cy="633.9" r="1.7"/><circle cx="554.3" cy="643.2" r="1.7"/><circle cx="551.0" cy="635.3" r="1.7"/><circle cx="549.7" cy="626.2" r="1.7"/><circle cx="547.4" cy="624.2" r="1.7"/><circle cx="530.4" cy="632.7" r="1.7"/><circle cx="532.2" cy="633.5" r="1.7"/><circle cx="537.6" cy="629.8" r="1.7"/><circle cx="540.2" cy="627.4" r="1.7"/><circle cx="541.1" cy="629.0" r="1.7"/><circle cx="542.7" cy="630.2" r="1.7"/><circle cx="529.7" cy="634.5" r="1.7"/><circle cx="547.0" cy="626.1" r="1.7"/></g>
<polyline points="490.30,664.54 492.19,664.00 494.07,663.44 495.96,662.86 497.85,662.25 499.73,661.62 501.62,660.96 503.50,660.28 505.39,659.57 507.28,658.83 509.16,658.07 511.05,657.28 512.94,656.46 514.82,655.61 516.71,654.74 518.59,653.83 520.48,652.90 522.37,651.94 524.25,650.94 526.14,649.92 528.02,648.86 529.91,647.78 531.80,646.66 533.68,645.50 535.57,644.32 537.46,643.10 539.34,641.85 541.23,640.56 543.12,639.24 545.00,637.88 546.89,636.49 548.77,635.06 550.66,633.60 552.55,632.10 554.43,630.56 556.32,628.98 558.21,627.37 560.09,625.72 561.98,624.03 563.86,622.30 565.75,620.53 567.64,618.72 569.52,616.87 571.41,614.98 573.30,613.05 575.18,611.07 577.07,609.06 578.95,607.00 580.84,604.90 582.73,602.75 584.61,600.57 586.50,598.34 588.38,596.06 590.27,593.74 592.16,591.37 594.04,588.96 595.93,586.50 597.82,584.00 599.70,581.45 601.59,578.85 603.48,576.21 605.36,573.51 607.25,570.77 609.13,567.98 611.02,565.14 612.91,562.25 614.79,559.31 616.68,556.33 618.57,553.29 620.45,550.19 622.34,547.05 624.22,543.86 626.11,540.61 628.00,537.31 629.88,533.96 631.77,530.56 633.66,527.10 635.54,523.58 637.43,520.02 639.31,516.39 641.20,512.72" fill="none" stroke="#000" stroke-width="5.6" stroke-linejoin="round" stroke-linecap="round"/>
</svg></body></html>
